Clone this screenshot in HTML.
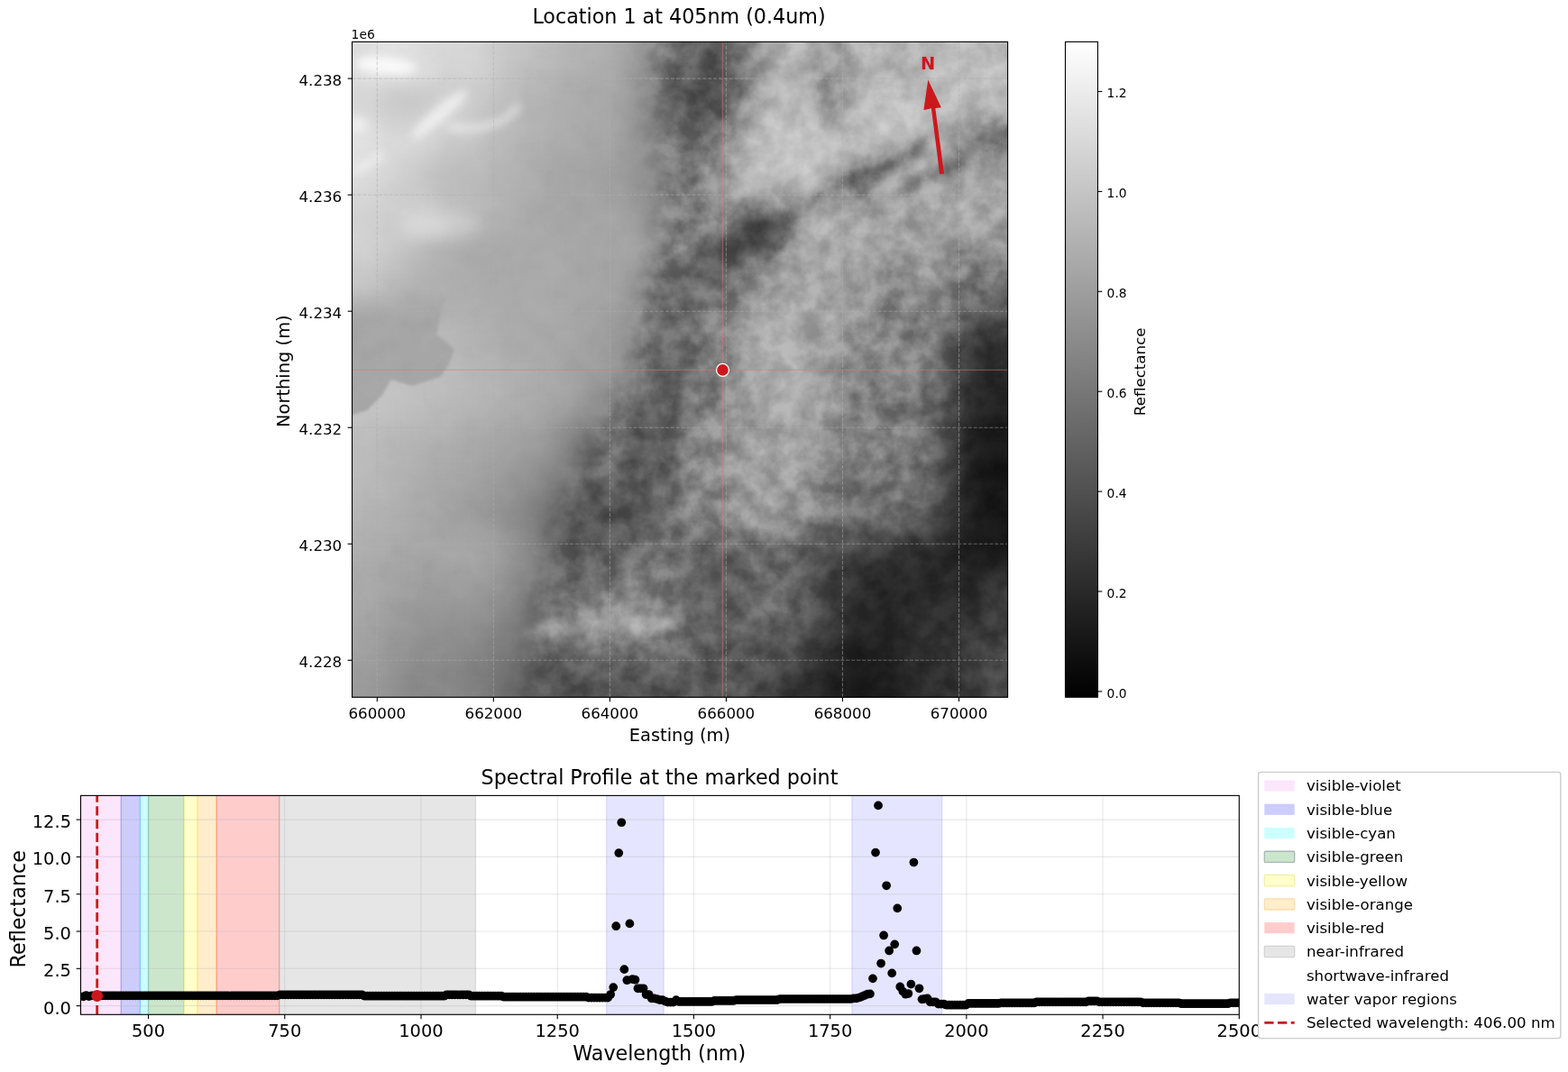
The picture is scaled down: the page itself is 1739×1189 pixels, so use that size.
<!DOCTYPE html>
<html><head><meta charset="utf-8"><title>Location 1 at 405nm</title>
<style>html,body{margin:0;padding:0;background:#fff;}svg{display:block;}svg text{font-family:"DejaVu Sans", "Liberation Sans", sans-serif;}</style></head>
<body><svg width="1739" height="1189" viewBox="0 0 1739 1189">
<rect width="1739" height="1189" fill="#fff"/>
<defs>
<clipPath id="axclip"><rect x="390.5" y="46.4" width="727.10" height="726.90"/></clipPath>
<filter id="tb" x="-5%" y="-5%" width="110%" height="110%" color-interpolation-filters="sRGB"><feGaussianBlur stdDeviation="15.15" edgeMode="duplicate"/></filter>
<linearGradient id="cbg" x1="0" y1="0" x2="0" y2="1"><stop offset="0" stop-color="#fff"/><stop offset="1" stop-color="#000"/></linearGradient>
<clipPath id="ax2clip"><rect x="89.5" y="882.4" width="1284.8" height="242.9"/></clipPath>
</defs>
<g clip-path="url(#axclip)" style="isolation:isolate"><g filter="url(#tb)">
<rect x="360.20" y="16.11" width="30.90" height="30.89" fill="rgb(222,222,222)"/>
<rect x="390.50" y="16.11" width="30.90" height="30.89" fill="rgb(222,222,222)"/>
<rect x="420.80" y="16.11" width="30.90" height="30.89" fill="rgb(228,228,228)"/>
<rect x="451.09" y="16.11" width="30.90" height="30.89" fill="rgb(220,220,220)"/>
<rect x="481.39" y="16.11" width="30.90" height="30.89" fill="rgb(215,215,215)"/>
<rect x="511.68" y="16.11" width="30.90" height="30.89" fill="rgb(215,215,215)"/>
<rect x="541.98" y="16.11" width="30.90" height="30.89" fill="rgb(200,200,200)"/>
<rect x="572.27" y="16.11" width="30.90" height="30.89" fill="rgb(195,195,195)"/>
<rect x="602.57" y="16.11" width="30.90" height="30.89" fill="rgb(185,185,185)"/>
<rect x="632.87" y="16.11" width="30.90" height="30.89" fill="rgb(180,180,180)"/>
<rect x="663.16" y="16.11" width="30.90" height="30.89" fill="rgb(175,175,175)"/>
<rect x="693.46" y="16.11" width="30.90" height="30.89" fill="rgb(155,155,155)"/>
<rect x="723.75" y="16.11" width="30.90" height="30.89" fill="rgb(120,120,120)"/>
<rect x="754.05" y="16.11" width="30.90" height="30.89" fill="rgb(95,95,95)"/>
<rect x="784.35" y="16.11" width="30.90" height="30.89" fill="rgb(85,85,85)"/>
<rect x="814.64" y="16.11" width="30.90" height="30.89" fill="rgb(115,115,115)"/>
<rect x="844.94" y="16.11" width="30.90" height="30.89" fill="rgb(180,180,180)"/>
<rect x="875.23" y="16.11" width="30.90" height="30.89" fill="rgb(180,180,180)"/>
<rect x="905.53" y="16.11" width="30.90" height="30.89" fill="rgb(150,150,150)"/>
<rect x="935.82" y="16.11" width="30.90" height="30.89" fill="rgb(180,180,180)"/>
<rect x="966.12" y="16.11" width="30.90" height="30.89" fill="rgb(175,175,175)"/>
<rect x="996.42" y="16.11" width="30.90" height="30.89" fill="rgb(170,170,170)"/>
<rect x="1026.71" y="16.11" width="30.90" height="30.89" fill="rgb(185,185,185)"/>
<rect x="1057.01" y="16.11" width="30.90" height="30.89" fill="rgb(190,190,190)"/>
<rect x="1087.30" y="16.11" width="30.90" height="30.89" fill="rgb(180,180,180)"/>
<rect x="1117.60" y="16.11" width="30.90" height="30.89" fill="rgb(180,180,180)"/>
<rect x="360.20" y="46.40" width="30.90" height="30.89" fill="rgb(222,222,222)"/>
<rect x="390.50" y="46.40" width="30.90" height="30.89" fill="rgb(222,222,222)"/>
<rect x="420.80" y="46.40" width="30.90" height="30.89" fill="rgb(228,228,228)"/>
<rect x="451.09" y="46.40" width="30.90" height="30.89" fill="rgb(220,220,220)"/>
<rect x="481.39" y="46.40" width="30.90" height="30.89" fill="rgb(215,215,215)"/>
<rect x="511.68" y="46.40" width="30.90" height="30.89" fill="rgb(215,215,215)"/>
<rect x="541.98" y="46.40" width="30.90" height="30.89" fill="rgb(200,200,200)"/>
<rect x="572.27" y="46.40" width="30.90" height="30.89" fill="rgb(195,195,195)"/>
<rect x="602.57" y="46.40" width="30.90" height="30.89" fill="rgb(185,185,185)"/>
<rect x="632.87" y="46.40" width="30.90" height="30.89" fill="rgb(180,180,180)"/>
<rect x="663.16" y="46.40" width="30.90" height="30.89" fill="rgb(175,175,175)"/>
<rect x="693.46" y="46.40" width="30.90" height="30.89" fill="rgb(155,155,155)"/>
<rect x="723.75" y="46.40" width="30.90" height="30.89" fill="rgb(120,120,120)"/>
<rect x="754.05" y="46.40" width="30.90" height="30.89" fill="rgb(95,95,95)"/>
<rect x="784.35" y="46.40" width="30.90" height="30.89" fill="rgb(85,85,85)"/>
<rect x="814.64" y="46.40" width="30.90" height="30.89" fill="rgb(115,115,115)"/>
<rect x="844.94" y="46.40" width="30.90" height="30.89" fill="rgb(180,180,180)"/>
<rect x="875.23" y="46.40" width="30.90" height="30.89" fill="rgb(180,180,180)"/>
<rect x="905.53" y="46.40" width="30.90" height="30.89" fill="rgb(150,150,150)"/>
<rect x="935.82" y="46.40" width="30.90" height="30.89" fill="rgb(180,180,180)"/>
<rect x="966.12" y="46.40" width="30.90" height="30.89" fill="rgb(175,175,175)"/>
<rect x="996.42" y="46.40" width="30.90" height="30.89" fill="rgb(170,170,170)"/>
<rect x="1026.71" y="46.40" width="30.90" height="30.89" fill="rgb(185,185,185)"/>
<rect x="1057.01" y="46.40" width="30.90" height="30.89" fill="rgb(190,190,190)"/>
<rect x="1087.30" y="46.40" width="30.90" height="30.89" fill="rgb(180,180,180)"/>
<rect x="1117.60" y="46.40" width="30.90" height="30.89" fill="rgb(180,180,180)"/>
<rect x="360.20" y="76.69" width="30.90" height="30.89" fill="rgb(215,215,215)"/>
<rect x="390.50" y="76.69" width="30.90" height="30.89" fill="rgb(215,215,215)"/>
<rect x="420.80" y="76.69" width="30.90" height="30.89" fill="rgb(205,205,205)"/>
<rect x="451.09" y="76.69" width="30.90" height="30.89" fill="rgb(200,200,200)"/>
<rect x="481.39" y="76.69" width="30.90" height="30.89" fill="rgb(205,205,205)"/>
<rect x="511.68" y="76.69" width="30.90" height="30.89" fill="rgb(210,210,210)"/>
<rect x="541.98" y="76.69" width="30.90" height="30.89" fill="rgb(195,195,195)"/>
<rect x="572.27" y="76.69" width="30.90" height="30.89" fill="rgb(185,185,185)"/>
<rect x="602.57" y="76.69" width="30.90" height="30.89" fill="rgb(175,175,175)"/>
<rect x="632.87" y="76.69" width="30.90" height="30.89" fill="rgb(170,170,170)"/>
<rect x="663.16" y="76.69" width="30.90" height="30.89" fill="rgb(170,170,170)"/>
<rect x="693.46" y="76.69" width="30.90" height="30.89" fill="rgb(150,150,150)"/>
<rect x="723.75" y="76.69" width="30.90" height="30.89" fill="rgb(105,105,105)"/>
<rect x="754.05" y="76.69" width="30.90" height="30.89" fill="rgb(80,80,80)"/>
<rect x="784.35" y="76.69" width="30.90" height="30.89" fill="rgb(70,70,70)"/>
<rect x="814.64" y="76.69" width="30.90" height="30.89" fill="rgb(131,131,131)"/>
<rect x="844.94" y="76.69" width="30.90" height="30.89" fill="rgb(191,191,191)"/>
<rect x="875.23" y="76.69" width="30.90" height="30.89" fill="rgb(181,181,181)"/>
<rect x="905.53" y="76.69" width="30.90" height="30.89" fill="rgb(120,120,120)"/>
<rect x="935.82" y="76.69" width="30.90" height="30.89" fill="rgb(185,185,185)"/>
<rect x="966.12" y="76.69" width="30.90" height="30.89" fill="rgb(190,190,190)"/>
<rect x="996.42" y="76.69" width="30.90" height="30.89" fill="rgb(180,180,180)"/>
<rect x="1026.71" y="76.69" width="30.90" height="30.89" fill="rgb(190,190,190)"/>
<rect x="1057.01" y="76.69" width="30.90" height="30.89" fill="rgb(190,190,190)"/>
<rect x="1087.30" y="76.69" width="30.90" height="30.89" fill="rgb(195,195,195)"/>
<rect x="1117.60" y="76.69" width="30.90" height="30.89" fill="rgb(195,195,195)"/>
<rect x="360.20" y="106.97" width="30.90" height="30.89" fill="rgb(215,215,215)"/>
<rect x="390.50" y="106.97" width="30.90" height="30.89" fill="rgb(215,215,215)"/>
<rect x="420.80" y="106.97" width="30.90" height="30.89" fill="rgb(200,200,200)"/>
<rect x="451.09" y="106.97" width="30.90" height="30.89" fill="rgb(200,200,200)"/>
<rect x="481.39" y="106.97" width="30.90" height="30.89" fill="rgb(220,220,220)"/>
<rect x="511.68" y="106.97" width="30.90" height="30.89" fill="rgb(200,200,200)"/>
<rect x="541.98" y="106.97" width="30.90" height="30.89" fill="rgb(190,190,190)"/>
<rect x="572.27" y="106.97" width="30.90" height="30.89" fill="rgb(180,180,180)"/>
<rect x="602.57" y="106.97" width="30.90" height="30.89" fill="rgb(175,175,175)"/>
<rect x="632.87" y="106.97" width="30.90" height="30.89" fill="rgb(170,170,170)"/>
<rect x="663.16" y="106.97" width="30.90" height="30.89" fill="rgb(170,170,170)"/>
<rect x="693.46" y="106.97" width="30.90" height="30.89" fill="rgb(150,150,150)"/>
<rect x="723.75" y="106.97" width="30.90" height="30.89" fill="rgb(95,95,95)"/>
<rect x="754.05" y="106.97" width="30.90" height="30.89" fill="rgb(80,80,80)"/>
<rect x="784.35" y="106.97" width="30.90" height="30.89" fill="rgb(65,65,65)"/>
<rect x="814.64" y="106.97" width="30.90" height="30.89" fill="rgb(166,166,166)"/>
<rect x="844.94" y="106.97" width="30.90" height="30.89" fill="rgb(191,191,191)"/>
<rect x="875.23" y="106.97" width="30.90" height="30.89" fill="rgb(186,186,186)"/>
<rect x="905.53" y="106.97" width="30.90" height="30.89" fill="rgb(130,130,130)"/>
<rect x="935.82" y="106.97" width="30.90" height="30.89" fill="rgb(185,185,185)"/>
<rect x="966.12" y="106.97" width="30.90" height="30.89" fill="rgb(195,195,195)"/>
<rect x="996.42" y="106.97" width="30.90" height="30.89" fill="rgb(195,195,195)"/>
<rect x="1026.71" y="106.97" width="30.90" height="30.89" fill="rgb(185,185,185)"/>
<rect x="1057.01" y="106.97" width="30.90" height="30.89" fill="rgb(185,185,185)"/>
<rect x="1087.30" y="106.97" width="30.90" height="30.89" fill="rgb(175,175,175)"/>
<rect x="1117.60" y="106.97" width="30.90" height="30.89" fill="rgb(175,175,175)"/>
<rect x="360.20" y="137.26" width="30.90" height="30.89" fill="rgb(228,228,228)"/>
<rect x="390.50" y="137.26" width="30.90" height="30.89" fill="rgb(228,228,228)"/>
<rect x="420.80" y="137.26" width="30.90" height="30.89" fill="rgb(218,218,218)"/>
<rect x="451.09" y="137.26" width="30.90" height="30.89" fill="rgb(223,223,223)"/>
<rect x="481.39" y="137.26" width="30.90" height="30.89" fill="rgb(205,205,205)"/>
<rect x="511.68" y="137.26" width="30.90" height="30.89" fill="rgb(200,200,200)"/>
<rect x="541.98" y="137.26" width="30.90" height="30.89" fill="rgb(185,185,185)"/>
<rect x="572.27" y="137.26" width="30.90" height="30.89" fill="rgb(180,180,180)"/>
<rect x="602.57" y="137.26" width="30.90" height="30.89" fill="rgb(175,175,175)"/>
<rect x="632.87" y="137.26" width="30.90" height="30.89" fill="rgb(170,170,170)"/>
<rect x="663.16" y="137.26" width="30.90" height="30.89" fill="rgb(165,165,165)"/>
<rect x="693.46" y="137.26" width="30.90" height="30.89" fill="rgb(150,150,150)"/>
<rect x="723.75" y="137.26" width="30.90" height="30.89" fill="rgb(120,120,120)"/>
<rect x="754.05" y="137.26" width="30.90" height="30.89" fill="rgb(115,115,115)"/>
<rect x="784.35" y="137.26" width="30.90" height="30.89" fill="rgb(115,115,115)"/>
<rect x="814.64" y="137.26" width="30.90" height="30.89" fill="rgb(186,186,186)"/>
<rect x="844.94" y="137.26" width="30.90" height="30.89" fill="rgb(191,191,191)"/>
<rect x="875.23" y="137.26" width="30.90" height="30.89" fill="rgb(201,201,201)"/>
<rect x="905.53" y="137.26" width="30.90" height="30.89" fill="rgb(200,200,200)"/>
<rect x="935.82" y="137.26" width="30.90" height="30.89" fill="rgb(200,200,200)"/>
<rect x="966.12" y="137.26" width="30.90" height="30.89" fill="rgb(200,200,200)"/>
<rect x="996.42" y="137.26" width="30.90" height="30.89" fill="rgb(185,185,185)"/>
<rect x="1026.71" y="137.26" width="30.90" height="30.89" fill="rgb(180,180,180)"/>
<rect x="1057.01" y="137.26" width="30.90" height="30.89" fill="rgb(140,140,140)"/>
<rect x="1087.30" y="137.26" width="30.90" height="30.89" fill="rgb(120,120,120)"/>
<rect x="1117.60" y="137.26" width="30.90" height="30.89" fill="rgb(120,120,120)"/>
<rect x="360.20" y="167.55" width="30.90" height="30.89" fill="rgb(223,223,223)"/>
<rect x="390.50" y="167.55" width="30.90" height="30.89" fill="rgb(223,223,223)"/>
<rect x="420.80" y="167.55" width="30.90" height="30.89" fill="rgb(213,213,213)"/>
<rect x="451.09" y="167.55" width="30.90" height="30.89" fill="rgb(203,203,203)"/>
<rect x="481.39" y="167.55" width="30.90" height="30.89" fill="rgb(190,190,190)"/>
<rect x="511.68" y="167.55" width="30.90" height="30.89" fill="rgb(190,190,190)"/>
<rect x="541.98" y="167.55" width="30.90" height="30.89" fill="rgb(180,180,180)"/>
<rect x="572.27" y="167.55" width="30.90" height="30.89" fill="rgb(175,175,175)"/>
<rect x="602.57" y="167.55" width="30.90" height="30.89" fill="rgb(165,165,165)"/>
<rect x="632.87" y="167.55" width="30.90" height="30.89" fill="rgb(165,165,165)"/>
<rect x="663.16" y="167.55" width="30.90" height="30.89" fill="rgb(160,160,160)"/>
<rect x="693.46" y="167.55" width="30.90" height="30.89" fill="rgb(150,150,150)"/>
<rect x="723.75" y="167.55" width="30.90" height="30.89" fill="rgb(125,125,125)"/>
<rect x="754.05" y="167.55" width="30.90" height="30.89" fill="rgb(115,115,115)"/>
<rect x="784.35" y="167.55" width="30.90" height="30.89" fill="rgb(145,145,145)"/>
<rect x="814.64" y="167.55" width="30.90" height="30.89" fill="rgb(191,191,191)"/>
<rect x="844.94" y="167.55" width="30.90" height="30.89" fill="rgb(191,191,191)"/>
<rect x="875.23" y="167.55" width="30.90" height="30.89" fill="rgb(201,201,201)"/>
<rect x="905.53" y="167.55" width="30.90" height="30.89" fill="rgb(195,195,195)"/>
<rect x="935.82" y="167.55" width="30.90" height="30.89" fill="rgb(140,140,140)"/>
<rect x="966.12" y="167.55" width="30.90" height="30.89" fill="rgb(130,130,130)"/>
<rect x="996.42" y="167.55" width="30.90" height="30.89" fill="rgb(170,170,170)"/>
<rect x="1026.71" y="167.55" width="30.90" height="30.89" fill="rgb(170,170,170)"/>
<rect x="1057.01" y="167.55" width="30.90" height="30.89" fill="rgb(130,130,130)"/>
<rect x="1087.30" y="167.55" width="30.90" height="30.89" fill="rgb(160,160,160)"/>
<rect x="1117.60" y="167.55" width="30.90" height="30.89" fill="rgb(160,160,160)"/>
<rect x="360.20" y="197.84" width="30.90" height="30.89" fill="rgb(218,218,218)"/>
<rect x="390.50" y="197.84" width="30.90" height="30.89" fill="rgb(218,218,218)"/>
<rect x="420.80" y="197.84" width="30.90" height="30.89" fill="rgb(208,208,208)"/>
<rect x="451.09" y="197.84" width="30.90" height="30.89" fill="rgb(198,198,198)"/>
<rect x="481.39" y="197.84" width="30.90" height="30.89" fill="rgb(185,185,185)"/>
<rect x="511.68" y="197.84" width="30.90" height="30.89" fill="rgb(185,185,185)"/>
<rect x="541.98" y="197.84" width="30.90" height="30.89" fill="rgb(180,180,180)"/>
<rect x="572.27" y="197.84" width="30.90" height="30.89" fill="rgb(175,175,175)"/>
<rect x="602.57" y="197.84" width="30.90" height="30.89" fill="rgb(165,165,165)"/>
<rect x="632.87" y="197.84" width="30.90" height="30.89" fill="rgb(165,165,165)"/>
<rect x="663.16" y="197.84" width="30.90" height="30.89" fill="rgb(160,160,160)"/>
<rect x="693.46" y="197.84" width="30.90" height="30.89" fill="rgb(150,150,150)"/>
<rect x="723.75" y="197.84" width="30.90" height="30.89" fill="rgb(125,125,125)"/>
<rect x="754.05" y="197.84" width="30.90" height="30.89" fill="rgb(115,115,115)"/>
<rect x="784.35" y="197.84" width="30.90" height="30.89" fill="rgb(155,155,155)"/>
<rect x="814.64" y="197.84" width="30.90" height="30.89" fill="rgb(186,186,186)"/>
<rect x="844.94" y="197.84" width="30.90" height="30.89" fill="rgb(176,176,176)"/>
<rect x="875.23" y="197.84" width="30.90" height="30.89" fill="rgb(181,181,181)"/>
<rect x="905.53" y="197.84" width="30.90" height="30.89" fill="rgb(150,150,150)"/>
<rect x="935.82" y="197.84" width="30.90" height="30.89" fill="rgb(110,110,110)"/>
<rect x="966.12" y="197.84" width="30.90" height="30.89" fill="rgb(175,175,175)"/>
<rect x="996.42" y="197.84" width="30.90" height="30.89" fill="rgb(185,185,185)"/>
<rect x="1026.71" y="197.84" width="30.90" height="30.89" fill="rgb(150,150,150)"/>
<rect x="1057.01" y="197.84" width="30.90" height="30.89" fill="rgb(175,175,175)"/>
<rect x="1087.30" y="197.84" width="30.90" height="30.89" fill="rgb(170,170,170)"/>
<rect x="1117.60" y="197.84" width="30.90" height="30.89" fill="rgb(170,170,170)"/>
<rect x="360.20" y="228.12" width="30.90" height="30.89" fill="rgb(208,208,208)"/>
<rect x="390.50" y="228.12" width="30.90" height="30.89" fill="rgb(208,208,208)"/>
<rect x="420.80" y="228.12" width="30.90" height="30.89" fill="rgb(203,203,203)"/>
<rect x="451.09" y="228.12" width="30.90" height="30.89" fill="rgb(218,218,218)"/>
<rect x="481.39" y="228.12" width="30.90" height="30.89" fill="rgb(205,205,205)"/>
<rect x="511.68" y="228.12" width="30.90" height="30.89" fill="rgb(190,190,190)"/>
<rect x="541.98" y="228.12" width="30.90" height="30.89" fill="rgb(175,175,175)"/>
<rect x="572.27" y="228.12" width="30.90" height="30.89" fill="rgb(170,170,170)"/>
<rect x="602.57" y="228.12" width="30.90" height="30.89" fill="rgb(165,165,165)"/>
<rect x="632.87" y="228.12" width="30.90" height="30.89" fill="rgb(165,165,165)"/>
<rect x="663.16" y="228.12" width="30.90" height="30.89" fill="rgb(170,170,170)"/>
<rect x="693.46" y="228.12" width="30.90" height="30.89" fill="rgb(155,155,155)"/>
<rect x="723.75" y="228.12" width="30.90" height="30.89" fill="rgb(130,130,130)"/>
<rect x="754.05" y="228.12" width="30.90" height="30.89" fill="rgb(120,120,120)"/>
<rect x="784.35" y="228.12" width="30.90" height="30.89" fill="rgb(150,150,150)"/>
<rect x="814.64" y="228.12" width="30.90" height="30.89" fill="rgb(70,70,70)"/>
<rect x="844.94" y="228.12" width="30.90" height="30.89" fill="rgb(90,90,90)"/>
<rect x="875.23" y="228.12" width="30.90" height="30.89" fill="rgb(180,180,180)"/>
<rect x="905.53" y="228.12" width="30.90" height="30.89" fill="rgb(175,175,175)"/>
<rect x="935.82" y="228.12" width="30.90" height="30.89" fill="rgb(175,175,175)"/>
<rect x="966.12" y="228.12" width="30.90" height="30.89" fill="rgb(160,160,160)"/>
<rect x="996.42" y="228.12" width="30.90" height="30.89" fill="rgb(150,150,150)"/>
<rect x="1026.71" y="228.12" width="30.90" height="30.89" fill="rgb(170,170,170)"/>
<rect x="1057.01" y="228.12" width="30.90" height="30.89" fill="rgb(175,175,175)"/>
<rect x="1087.30" y="228.12" width="30.90" height="30.89" fill="rgb(155,155,155)"/>
<rect x="1117.60" y="228.12" width="30.90" height="30.89" fill="rgb(155,155,155)"/>
<rect x="360.20" y="258.41" width="30.90" height="30.89" fill="rgb(213,213,213)"/>
<rect x="390.50" y="258.41" width="30.90" height="30.89" fill="rgb(213,213,213)"/>
<rect x="420.80" y="258.41" width="30.90" height="30.89" fill="rgb(203,203,203)"/>
<rect x="451.09" y="258.41" width="30.90" height="30.89" fill="rgb(188,188,188)"/>
<rect x="481.39" y="258.41" width="30.90" height="30.89" fill="rgb(175,175,175)"/>
<rect x="511.68" y="258.41" width="30.90" height="30.89" fill="rgb(165,165,165)"/>
<rect x="541.98" y="258.41" width="30.90" height="30.89" fill="rgb(170,170,170)"/>
<rect x="572.27" y="258.41" width="30.90" height="30.89" fill="rgb(170,170,170)"/>
<rect x="602.57" y="258.41" width="30.90" height="30.89" fill="rgb(170,170,170)"/>
<rect x="632.87" y="258.41" width="30.90" height="30.89" fill="rgb(165,165,165)"/>
<rect x="663.16" y="258.41" width="30.90" height="30.89" fill="rgb(165,165,165)"/>
<rect x="693.46" y="258.41" width="30.90" height="30.89" fill="rgb(165,165,165)"/>
<rect x="723.75" y="258.41" width="30.90" height="30.89" fill="rgb(140,140,140)"/>
<rect x="754.05" y="258.41" width="30.90" height="30.89" fill="rgb(120,120,120)"/>
<rect x="784.35" y="258.41" width="30.90" height="30.89" fill="rgb(70,70,70)"/>
<rect x="814.64" y="258.41" width="30.90" height="30.89" fill="rgb(60,60,60)"/>
<rect x="844.94" y="258.41" width="30.90" height="30.89" fill="rgb(140,140,140)"/>
<rect x="875.23" y="258.41" width="30.90" height="30.89" fill="rgb(170,170,170)"/>
<rect x="905.53" y="258.41" width="30.90" height="30.89" fill="rgb(165,165,165)"/>
<rect x="935.82" y="258.41" width="30.90" height="30.89" fill="rgb(175,175,175)"/>
<rect x="966.12" y="258.41" width="30.90" height="30.89" fill="rgb(165,165,165)"/>
<rect x="996.42" y="258.41" width="30.90" height="30.89" fill="rgb(165,165,165)"/>
<rect x="1026.71" y="258.41" width="30.90" height="30.89" fill="rgb(150,150,150)"/>
<rect x="1057.01" y="258.41" width="30.90" height="30.89" fill="rgb(140,140,140)"/>
<rect x="1087.30" y="258.41" width="30.90" height="30.89" fill="rgb(150,150,150)"/>
<rect x="1117.60" y="258.41" width="30.90" height="30.89" fill="rgb(150,150,150)"/>
<rect x="360.20" y="288.70" width="30.90" height="30.89" fill="rgb(200,200,200)"/>
<rect x="390.50" y="288.70" width="30.90" height="30.89" fill="rgb(200,200,200)"/>
<rect x="420.80" y="288.70" width="30.90" height="30.89" fill="rgb(190,190,190)"/>
<rect x="451.09" y="288.70" width="30.90" height="30.89" fill="rgb(180,180,180)"/>
<rect x="481.39" y="288.70" width="30.90" height="30.89" fill="rgb(175,175,175)"/>
<rect x="511.68" y="288.70" width="30.90" height="30.89" fill="rgb(170,170,170)"/>
<rect x="541.98" y="288.70" width="30.90" height="30.89" fill="rgb(170,170,170)"/>
<rect x="572.27" y="288.70" width="30.90" height="30.89" fill="rgb(170,170,170)"/>
<rect x="602.57" y="288.70" width="30.90" height="30.89" fill="rgb(170,170,170)"/>
<rect x="632.87" y="288.70" width="30.90" height="30.89" fill="rgb(165,165,165)"/>
<rect x="663.16" y="288.70" width="30.90" height="30.89" fill="rgb(165,165,165)"/>
<rect x="693.46" y="288.70" width="30.90" height="30.89" fill="rgb(155,155,155)"/>
<rect x="723.75" y="288.70" width="30.90" height="30.89" fill="rgb(100,100,100)"/>
<rect x="754.05" y="288.70" width="30.90" height="30.89" fill="rgb(110,110,110)"/>
<rect x="784.35" y="288.70" width="30.90" height="30.89" fill="rgb(80,80,80)"/>
<rect x="814.64" y="288.70" width="30.90" height="30.89" fill="rgb(135,135,135)"/>
<rect x="844.94" y="288.70" width="30.90" height="30.89" fill="rgb(170,170,170)"/>
<rect x="875.23" y="288.70" width="30.90" height="30.89" fill="rgb(160,160,160)"/>
<rect x="905.53" y="288.70" width="30.90" height="30.89" fill="rgb(160,160,160)"/>
<rect x="935.82" y="288.70" width="30.90" height="30.89" fill="rgb(170,170,170)"/>
<rect x="966.12" y="288.70" width="30.90" height="30.89" fill="rgb(130,130,130)"/>
<rect x="996.42" y="288.70" width="30.90" height="30.89" fill="rgb(150,150,150)"/>
<rect x="1026.71" y="288.70" width="30.90" height="30.89" fill="rgb(150,150,150)"/>
<rect x="1057.01" y="288.70" width="30.90" height="30.89" fill="rgb(120,120,120)"/>
<rect x="1087.30" y="288.70" width="30.90" height="30.89" fill="rgb(120,120,120)"/>
<rect x="1117.60" y="288.70" width="30.90" height="30.89" fill="rgb(120,120,120)"/>
<rect x="360.20" y="318.99" width="30.90" height="30.89" fill="rgb(195,195,195)"/>
<rect x="390.50" y="318.99" width="30.90" height="30.89" fill="rgb(195,195,195)"/>
<rect x="420.80" y="318.99" width="30.90" height="30.89" fill="rgb(180,180,180)"/>
<rect x="451.09" y="318.99" width="30.90" height="30.89" fill="rgb(170,170,170)"/>
<rect x="481.39" y="318.99" width="30.90" height="30.89" fill="rgb(175,175,175)"/>
<rect x="511.68" y="318.99" width="30.90" height="30.89" fill="rgb(175,175,175)"/>
<rect x="541.98" y="318.99" width="30.90" height="30.89" fill="rgb(170,170,170)"/>
<rect x="572.27" y="318.99" width="30.90" height="30.89" fill="rgb(170,170,170)"/>
<rect x="602.57" y="318.99" width="30.90" height="30.89" fill="rgb(170,170,170)"/>
<rect x="632.87" y="318.99" width="30.90" height="30.89" fill="rgb(165,165,165)"/>
<rect x="663.16" y="318.99" width="30.90" height="30.89" fill="rgb(165,165,165)"/>
<rect x="693.46" y="318.99" width="30.90" height="30.89" fill="rgb(150,150,150)"/>
<rect x="723.75" y="318.99" width="30.90" height="30.89" fill="rgb(85,85,85)"/>
<rect x="754.05" y="318.99" width="30.90" height="30.89" fill="rgb(120,120,120)"/>
<rect x="784.35" y="318.99" width="30.90" height="30.89" fill="rgb(110,110,110)"/>
<rect x="814.64" y="318.99" width="30.90" height="30.89" fill="rgb(150,150,150)"/>
<rect x="844.94" y="318.99" width="30.90" height="30.89" fill="rgb(165,165,165)"/>
<rect x="875.23" y="318.99" width="30.90" height="30.89" fill="rgb(160,160,160)"/>
<rect x="905.53" y="318.99" width="30.90" height="30.89" fill="rgb(165,165,165)"/>
<rect x="935.82" y="318.99" width="30.90" height="30.89" fill="rgb(160,160,160)"/>
<rect x="966.12" y="318.99" width="30.90" height="30.89" fill="rgb(125,125,125)"/>
<rect x="996.42" y="318.99" width="30.90" height="30.89" fill="rgb(145,145,145)"/>
<rect x="1026.71" y="318.99" width="30.90" height="30.89" fill="rgb(140,140,140)"/>
<rect x="1057.01" y="318.99" width="30.90" height="30.89" fill="rgb(110,110,110)"/>
<rect x="1087.30" y="318.99" width="30.90" height="30.89" fill="rgb(100,100,100)"/>
<rect x="1117.60" y="318.99" width="30.90" height="30.89" fill="rgb(100,100,100)"/>
<rect x="360.20" y="349.27" width="30.90" height="30.89" fill="rgb(190,190,190)"/>
<rect x="390.50" y="349.27" width="30.90" height="30.89" fill="rgb(190,190,190)"/>
<rect x="420.80" y="349.27" width="30.90" height="30.89" fill="rgb(188,188,188)"/>
<rect x="451.09" y="349.27" width="30.90" height="30.89" fill="rgb(185,185,185)"/>
<rect x="481.39" y="349.27" width="30.90" height="30.89" fill="rgb(182,182,182)"/>
<rect x="511.68" y="349.27" width="30.90" height="30.89" fill="rgb(178,178,178)"/>
<rect x="541.98" y="349.27" width="30.90" height="30.89" fill="rgb(170,170,170)"/>
<rect x="572.27" y="349.27" width="30.90" height="30.89" fill="rgb(170,170,170)"/>
<rect x="602.57" y="349.27" width="30.90" height="30.89" fill="rgb(170,170,170)"/>
<rect x="632.87" y="349.27" width="30.90" height="30.89" fill="rgb(165,165,165)"/>
<rect x="663.16" y="349.27" width="30.90" height="30.89" fill="rgb(155,155,155)"/>
<rect x="693.46" y="349.27" width="30.90" height="30.89" fill="rgb(140,140,140)"/>
<rect x="723.75" y="349.27" width="30.90" height="30.89" fill="rgb(100,100,100)"/>
<rect x="754.05" y="349.27" width="30.90" height="30.89" fill="rgb(115,115,115)"/>
<rect x="784.35" y="349.27" width="30.90" height="30.89" fill="rgb(135,135,135)"/>
<rect x="814.64" y="349.27" width="30.90" height="30.89" fill="rgb(170,170,170)"/>
<rect x="844.94" y="349.27" width="30.90" height="30.89" fill="rgb(180,180,180)"/>
<rect x="875.23" y="349.27" width="30.90" height="30.89" fill="rgb(165,165,165)"/>
<rect x="905.53" y="349.27" width="30.90" height="30.89" fill="rgb(160,160,160)"/>
<rect x="935.82" y="349.27" width="30.90" height="30.89" fill="rgb(155,155,155)"/>
<rect x="966.12" y="349.27" width="30.90" height="30.89" fill="rgb(130,130,130)"/>
<rect x="996.42" y="349.27" width="30.90" height="30.89" fill="rgb(125,125,125)"/>
<rect x="1026.71" y="349.27" width="30.90" height="30.89" fill="rgb(120,120,120)"/>
<rect x="1057.01" y="349.27" width="30.90" height="30.89" fill="rgb(70,70,70)"/>
<rect x="1087.30" y="349.27" width="30.90" height="30.89" fill="rgb(60,60,60)"/>
<rect x="1117.60" y="349.27" width="30.90" height="30.89" fill="rgb(60,60,60)"/>
<rect x="360.20" y="379.56" width="30.90" height="30.89" fill="rgb(192,192,192)"/>
<rect x="390.50" y="379.56" width="30.90" height="30.89" fill="rgb(192,192,192)"/>
<rect x="420.80" y="379.56" width="30.90" height="30.89" fill="rgb(190,190,190)"/>
<rect x="451.09" y="379.56" width="30.90" height="30.89" fill="rgb(188,188,188)"/>
<rect x="481.39" y="379.56" width="30.90" height="30.89" fill="rgb(185,185,185)"/>
<rect x="511.68" y="379.56" width="30.90" height="30.89" fill="rgb(180,180,180)"/>
<rect x="541.98" y="379.56" width="30.90" height="30.89" fill="rgb(175,175,175)"/>
<rect x="572.27" y="379.56" width="30.90" height="30.89" fill="rgb(170,170,170)"/>
<rect x="602.57" y="379.56" width="30.90" height="30.89" fill="rgb(165,165,165)"/>
<rect x="632.87" y="379.56" width="30.90" height="30.89" fill="rgb(160,160,160)"/>
<rect x="663.16" y="379.56" width="30.90" height="30.89" fill="rgb(160,160,160)"/>
<rect x="693.46" y="379.56" width="30.90" height="30.89" fill="rgb(130,130,130)"/>
<rect x="723.75" y="379.56" width="30.90" height="30.89" fill="rgb(90,90,90)"/>
<rect x="754.05" y="379.56" width="30.90" height="30.89" fill="rgb(110,110,110)"/>
<rect x="784.35" y="379.56" width="30.90" height="30.89" fill="rgb(125,125,125)"/>
<rect x="814.64" y="379.56" width="30.90" height="30.89" fill="rgb(165,165,165)"/>
<rect x="844.94" y="379.56" width="30.90" height="30.89" fill="rgb(170,170,170)"/>
<rect x="875.23" y="379.56" width="30.90" height="30.89" fill="rgb(160,160,160)"/>
<rect x="905.53" y="379.56" width="30.90" height="30.89" fill="rgb(140,140,140)"/>
<rect x="935.82" y="379.56" width="30.90" height="30.89" fill="rgb(145,145,145)"/>
<rect x="966.12" y="379.56" width="30.90" height="30.89" fill="rgb(130,130,130)"/>
<rect x="996.42" y="379.56" width="30.90" height="30.89" fill="rgb(130,130,130)"/>
<rect x="1026.71" y="379.56" width="30.90" height="30.89" fill="rgb(110,110,110)"/>
<rect x="1057.01" y="379.56" width="30.90" height="30.89" fill="rgb(50,50,50)"/>
<rect x="1087.30" y="379.56" width="30.90" height="30.89" fill="rgb(45,45,45)"/>
<rect x="1117.60" y="379.56" width="30.90" height="30.89" fill="rgb(45,45,45)"/>
<rect x="360.20" y="409.85" width="30.90" height="30.89" fill="rgb(195,195,195)"/>
<rect x="390.50" y="409.85" width="30.90" height="30.89" fill="rgb(195,195,195)"/>
<rect x="420.80" y="409.85" width="30.90" height="30.89" fill="rgb(195,195,195)"/>
<rect x="451.09" y="409.85" width="30.90" height="30.89" fill="rgb(192,192,192)"/>
<rect x="481.39" y="409.85" width="30.90" height="30.89" fill="rgb(188,188,188)"/>
<rect x="511.68" y="409.85" width="30.90" height="30.89" fill="rgb(185,185,185)"/>
<rect x="541.98" y="409.85" width="30.90" height="30.89" fill="rgb(180,180,180)"/>
<rect x="572.27" y="409.85" width="30.90" height="30.89" fill="rgb(175,175,175)"/>
<rect x="602.57" y="409.85" width="30.90" height="30.89" fill="rgb(170,170,170)"/>
<rect x="632.87" y="409.85" width="30.90" height="30.89" fill="rgb(160,160,160)"/>
<rect x="663.16" y="409.85" width="30.90" height="30.89" fill="rgb(150,150,150)"/>
<rect x="693.46" y="409.85" width="30.90" height="30.89" fill="rgb(120,120,120)"/>
<rect x="723.75" y="409.85" width="30.90" height="30.89" fill="rgb(80,80,80)"/>
<rect x="754.05" y="409.85" width="30.90" height="30.89" fill="rgb(110,110,110)"/>
<rect x="784.35" y="409.85" width="30.90" height="30.89" fill="rgb(130,130,130)"/>
<rect x="814.64" y="409.85" width="30.90" height="30.89" fill="rgb(150,150,150)"/>
<rect x="844.94" y="409.85" width="30.90" height="30.89" fill="rgb(180,180,180)"/>
<rect x="875.23" y="409.85" width="30.90" height="30.89" fill="rgb(190,190,190)"/>
<rect x="905.53" y="409.85" width="30.90" height="30.89" fill="rgb(165,165,165)"/>
<rect x="935.82" y="409.85" width="30.90" height="30.89" fill="rgb(125,125,125)"/>
<rect x="966.12" y="409.85" width="30.90" height="30.89" fill="rgb(130,130,130)"/>
<rect x="996.42" y="409.85" width="30.90" height="30.89" fill="rgb(125,125,125)"/>
<rect x="1026.71" y="409.85" width="30.90" height="30.89" fill="rgb(120,120,120)"/>
<rect x="1057.01" y="409.85" width="30.90" height="30.89" fill="rgb(50,50,50)"/>
<rect x="1087.30" y="409.85" width="30.90" height="30.89" fill="rgb(35,35,35)"/>
<rect x="1117.60" y="409.85" width="30.90" height="30.89" fill="rgb(35,35,35)"/>
<rect x="360.20" y="440.14" width="30.90" height="30.89" fill="rgb(198,198,198)"/>
<rect x="390.50" y="440.14" width="30.90" height="30.89" fill="rgb(198,198,198)"/>
<rect x="420.80" y="440.14" width="30.90" height="30.89" fill="rgb(195,195,195)"/>
<rect x="451.09" y="440.14" width="30.90" height="30.89" fill="rgb(190,190,190)"/>
<rect x="481.39" y="440.14" width="30.90" height="30.89" fill="rgb(185,185,185)"/>
<rect x="511.68" y="440.14" width="30.90" height="30.89" fill="rgb(180,180,180)"/>
<rect x="541.98" y="440.14" width="30.90" height="30.89" fill="rgb(175,175,175)"/>
<rect x="572.27" y="440.14" width="30.90" height="30.89" fill="rgb(170,170,170)"/>
<rect x="602.57" y="440.14" width="30.90" height="30.89" fill="rgb(165,165,165)"/>
<rect x="632.87" y="440.14" width="30.90" height="30.89" fill="rgb(150,150,150)"/>
<rect x="663.16" y="440.14" width="30.90" height="30.89" fill="rgb(130,130,130)"/>
<rect x="693.46" y="440.14" width="30.90" height="30.89" fill="rgb(95,95,95)"/>
<rect x="723.75" y="440.14" width="30.90" height="30.89" fill="rgb(85,85,85)"/>
<rect x="754.05" y="440.14" width="30.90" height="30.89" fill="rgb(130,130,130)"/>
<rect x="784.35" y="440.14" width="30.90" height="30.89" fill="rgb(135,135,135)"/>
<rect x="814.64" y="440.14" width="30.90" height="30.89" fill="rgb(160,160,160)"/>
<rect x="844.94" y="440.14" width="30.90" height="30.89" fill="rgb(165,165,165)"/>
<rect x="875.23" y="440.14" width="30.90" height="30.89" fill="rgb(160,160,160)"/>
<rect x="905.53" y="440.14" width="30.90" height="30.89" fill="rgb(150,150,150)"/>
<rect x="935.82" y="440.14" width="30.90" height="30.89" fill="rgb(125,125,125)"/>
<rect x="966.12" y="440.14" width="30.90" height="30.89" fill="rgb(120,120,120)"/>
<rect x="996.42" y="440.14" width="30.90" height="30.89" fill="rgb(110,110,110)"/>
<rect x="1026.71" y="440.14" width="30.90" height="30.89" fill="rgb(90,90,90)"/>
<rect x="1057.01" y="440.14" width="30.90" height="30.89" fill="rgb(40,40,40)"/>
<rect x="1087.30" y="440.14" width="30.90" height="30.89" fill="rgb(30,30,30)"/>
<rect x="1117.60" y="440.14" width="30.90" height="30.89" fill="rgb(30,30,30)"/>
<rect x="360.20" y="470.42" width="30.90" height="30.89" fill="rgb(188,188,188)"/>
<rect x="390.50" y="470.42" width="30.90" height="30.89" fill="rgb(188,188,188)"/>
<rect x="420.80" y="470.42" width="30.90" height="30.89" fill="rgb(182,182,182)"/>
<rect x="451.09" y="470.42" width="30.90" height="30.89" fill="rgb(180,180,180)"/>
<rect x="481.39" y="470.42" width="30.90" height="30.89" fill="rgb(175,175,175)"/>
<rect x="511.68" y="470.42" width="30.90" height="30.89" fill="rgb(170,170,170)"/>
<rect x="541.98" y="470.42" width="30.90" height="30.89" fill="rgb(165,165,165)"/>
<rect x="572.27" y="470.42" width="30.90" height="30.89" fill="rgb(160,160,160)"/>
<rect x="602.57" y="470.42" width="30.90" height="30.89" fill="rgb(150,150,150)"/>
<rect x="632.87" y="470.42" width="30.90" height="30.89" fill="rgb(110,110,110)"/>
<rect x="663.16" y="470.42" width="30.90" height="30.89" fill="rgb(120,120,120)"/>
<rect x="693.46" y="470.42" width="30.90" height="30.89" fill="rgb(80,80,80)"/>
<rect x="723.75" y="470.42" width="30.90" height="30.89" fill="rgb(90,90,90)"/>
<rect x="754.05" y="470.42" width="30.90" height="30.89" fill="rgb(140,140,140)"/>
<rect x="784.35" y="470.42" width="30.90" height="30.89" fill="rgb(140,140,140)"/>
<rect x="814.64" y="470.42" width="30.90" height="30.89" fill="rgb(155,155,155)"/>
<rect x="844.94" y="470.42" width="30.90" height="30.89" fill="rgb(165,165,165)"/>
<rect x="875.23" y="470.42" width="30.90" height="30.89" fill="rgb(170,170,170)"/>
<rect x="905.53" y="470.42" width="30.90" height="30.89" fill="rgb(155,155,155)"/>
<rect x="935.82" y="470.42" width="30.90" height="30.89" fill="rgb(120,120,120)"/>
<rect x="966.12" y="470.42" width="30.90" height="30.89" fill="rgb(125,125,125)"/>
<rect x="996.42" y="470.42" width="30.90" height="30.89" fill="rgb(130,130,130)"/>
<rect x="1026.71" y="470.42" width="30.90" height="30.89" fill="rgb(100,100,100)"/>
<rect x="1057.01" y="470.42" width="30.90" height="30.89" fill="rgb(35,35,35)"/>
<rect x="1087.30" y="470.42" width="30.90" height="30.89" fill="rgb(25,25,25)"/>
<rect x="1117.60" y="470.42" width="30.90" height="30.89" fill="rgb(25,25,25)"/>
<rect x="360.20" y="500.71" width="30.90" height="30.89" fill="rgb(188,188,188)"/>
<rect x="390.50" y="500.71" width="30.90" height="30.89" fill="rgb(188,188,188)"/>
<rect x="420.80" y="500.71" width="30.90" height="30.89" fill="rgb(182,182,182)"/>
<rect x="451.09" y="500.71" width="30.90" height="30.89" fill="rgb(175,175,175)"/>
<rect x="481.39" y="500.71" width="30.90" height="30.89" fill="rgb(170,170,170)"/>
<rect x="511.68" y="500.71" width="30.90" height="30.89" fill="rgb(165,165,165)"/>
<rect x="541.98" y="500.71" width="30.90" height="30.89" fill="rgb(160,160,160)"/>
<rect x="572.27" y="500.71" width="30.90" height="30.89" fill="rgb(150,150,150)"/>
<rect x="602.57" y="500.71" width="30.90" height="30.89" fill="rgb(140,140,140)"/>
<rect x="632.87" y="500.71" width="30.90" height="30.89" fill="rgb(100,100,100)"/>
<rect x="663.16" y="500.71" width="30.90" height="30.89" fill="rgb(110,110,110)"/>
<rect x="693.46" y="500.71" width="30.90" height="30.89" fill="rgb(80,80,80)"/>
<rect x="723.75" y="500.71" width="30.90" height="30.89" fill="rgb(95,95,95)"/>
<rect x="754.05" y="500.71" width="30.90" height="30.89" fill="rgb(140,140,140)"/>
<rect x="784.35" y="500.71" width="30.90" height="30.89" fill="rgb(140,140,140)"/>
<rect x="814.64" y="500.71" width="30.90" height="30.89" fill="rgb(165,165,165)"/>
<rect x="844.94" y="500.71" width="30.90" height="30.89" fill="rgb(160,160,160)"/>
<rect x="875.23" y="500.71" width="30.90" height="30.89" fill="rgb(155,155,155)"/>
<rect x="905.53" y="500.71" width="30.90" height="30.89" fill="rgb(140,140,140)"/>
<rect x="935.82" y="500.71" width="30.90" height="30.89" fill="rgb(120,120,120)"/>
<rect x="966.12" y="500.71" width="30.90" height="30.89" fill="rgb(130,130,130)"/>
<rect x="996.42" y="500.71" width="30.90" height="30.89" fill="rgb(120,120,120)"/>
<rect x="1026.71" y="500.71" width="30.90" height="30.89" fill="rgb(90,90,90)"/>
<rect x="1057.01" y="500.71" width="30.90" height="30.89" fill="rgb(30,30,30)"/>
<rect x="1087.30" y="500.71" width="30.90" height="30.89" fill="rgb(20,20,20)"/>
<rect x="1117.60" y="500.71" width="30.90" height="30.89" fill="rgb(20,20,20)"/>
<rect x="360.20" y="531.00" width="30.90" height="30.89" fill="rgb(185,185,185)"/>
<rect x="390.50" y="531.00" width="30.90" height="30.89" fill="rgb(185,185,185)"/>
<rect x="420.80" y="531.00" width="30.90" height="30.89" fill="rgb(180,180,180)"/>
<rect x="451.09" y="531.00" width="30.90" height="30.89" fill="rgb(170,170,170)"/>
<rect x="481.39" y="531.00" width="30.90" height="30.89" fill="rgb(165,165,165)"/>
<rect x="511.68" y="531.00" width="30.90" height="30.89" fill="rgb(160,160,160)"/>
<rect x="541.98" y="531.00" width="30.90" height="30.89" fill="rgb(150,150,150)"/>
<rect x="572.27" y="531.00" width="30.90" height="30.89" fill="rgb(140,140,140)"/>
<rect x="602.57" y="531.00" width="30.90" height="30.89" fill="rgb(120,120,120)"/>
<rect x="632.87" y="531.00" width="30.90" height="30.89" fill="rgb(95,95,95)"/>
<rect x="663.16" y="531.00" width="30.90" height="30.89" fill="rgb(90,90,90)"/>
<rect x="693.46" y="531.00" width="30.90" height="30.89" fill="rgb(85,85,85)"/>
<rect x="723.75" y="531.00" width="30.90" height="30.89" fill="rgb(105,105,105)"/>
<rect x="754.05" y="531.00" width="30.90" height="30.89" fill="rgb(135,135,135)"/>
<rect x="784.35" y="531.00" width="30.90" height="30.89" fill="rgb(130,130,130)"/>
<rect x="814.64" y="531.00" width="30.90" height="30.89" fill="rgb(160,160,160)"/>
<rect x="844.94" y="531.00" width="30.90" height="30.89" fill="rgb(160,160,160)"/>
<rect x="875.23" y="531.00" width="30.90" height="30.89" fill="rgb(150,150,150)"/>
<rect x="905.53" y="531.00" width="30.90" height="30.89" fill="rgb(125,125,125)"/>
<rect x="935.82" y="531.00" width="30.90" height="30.89" fill="rgb(110,110,110)"/>
<rect x="966.12" y="531.00" width="30.90" height="30.89" fill="rgb(120,120,120)"/>
<rect x="996.42" y="531.00" width="30.90" height="30.89" fill="rgb(115,115,115)"/>
<rect x="1026.71" y="531.00" width="30.90" height="30.89" fill="rgb(90,90,90)"/>
<rect x="1057.01" y="531.00" width="30.90" height="30.89" fill="rgb(30,30,30)"/>
<rect x="1087.30" y="531.00" width="30.90" height="30.89" fill="rgb(20,20,20)"/>
<rect x="1117.60" y="531.00" width="30.90" height="30.89" fill="rgb(20,20,20)"/>
<rect x="360.20" y="561.29" width="30.90" height="30.89" fill="rgb(180,180,180)"/>
<rect x="390.50" y="561.29" width="30.90" height="30.89" fill="rgb(180,180,180)"/>
<rect x="420.80" y="561.29" width="30.90" height="30.89" fill="rgb(175,175,175)"/>
<rect x="451.09" y="561.29" width="30.90" height="30.89" fill="rgb(170,170,170)"/>
<rect x="481.39" y="561.29" width="30.90" height="30.89" fill="rgb(160,160,160)"/>
<rect x="511.68" y="561.29" width="30.90" height="30.89" fill="rgb(155,155,155)"/>
<rect x="541.98" y="561.29" width="30.90" height="30.89" fill="rgb(145,145,145)"/>
<rect x="572.27" y="561.29" width="30.90" height="30.89" fill="rgb(130,130,130)"/>
<rect x="602.57" y="561.29" width="30.90" height="30.89" fill="rgb(100,100,100)"/>
<rect x="632.87" y="561.29" width="30.90" height="30.89" fill="rgb(80,80,80)"/>
<rect x="663.16" y="561.29" width="30.90" height="30.89" fill="rgb(70,70,70)"/>
<rect x="693.46" y="561.29" width="30.90" height="30.89" fill="rgb(90,90,90)"/>
<rect x="723.75" y="561.29" width="30.90" height="30.89" fill="rgb(110,110,110)"/>
<rect x="754.05" y="561.29" width="30.90" height="30.89" fill="rgb(130,130,130)"/>
<rect x="784.35" y="561.29" width="30.90" height="30.89" fill="rgb(135,135,135)"/>
<rect x="814.64" y="561.29" width="30.90" height="30.89" fill="rgb(165,165,165)"/>
<rect x="844.94" y="561.29" width="30.90" height="30.89" fill="rgb(155,155,155)"/>
<rect x="875.23" y="561.29" width="30.90" height="30.89" fill="rgb(145,145,145)"/>
<rect x="905.53" y="561.29" width="30.90" height="30.89" fill="rgb(120,120,120)"/>
<rect x="935.82" y="561.29" width="30.90" height="30.89" fill="rgb(110,110,110)"/>
<rect x="966.12" y="561.29" width="30.90" height="30.89" fill="rgb(110,110,110)"/>
<rect x="996.42" y="561.29" width="30.90" height="30.89" fill="rgb(105,105,105)"/>
<rect x="1026.71" y="561.29" width="30.90" height="30.89" fill="rgb(80,80,80)"/>
<rect x="1057.01" y="561.29" width="30.90" height="30.89" fill="rgb(30,30,30)"/>
<rect x="1087.30" y="561.29" width="30.90" height="30.89" fill="rgb(25,25,25)"/>
<rect x="1117.60" y="561.29" width="30.90" height="30.89" fill="rgb(25,25,25)"/>
<rect x="360.20" y="591.57" width="30.90" height="30.89" fill="rgb(175,175,175)"/>
<rect x="390.50" y="591.57" width="30.90" height="30.89" fill="rgb(175,175,175)"/>
<rect x="420.80" y="591.57" width="30.90" height="30.89" fill="rgb(170,170,170)"/>
<rect x="451.09" y="591.57" width="30.90" height="30.89" fill="rgb(165,165,165)"/>
<rect x="481.39" y="591.57" width="30.90" height="30.89" fill="rgb(170,170,170)"/>
<rect x="511.68" y="591.57" width="30.90" height="30.89" fill="rgb(168,168,168)"/>
<rect x="541.98" y="591.57" width="30.90" height="30.89" fill="rgb(162,162,162)"/>
<rect x="572.27" y="591.57" width="30.90" height="30.89" fill="rgb(140,140,140)"/>
<rect x="602.57" y="591.57" width="30.90" height="30.89" fill="rgb(98,98,98)"/>
<rect x="632.87" y="591.57" width="30.90" height="30.89" fill="rgb(88,88,88)"/>
<rect x="663.16" y="591.57" width="30.90" height="30.89" fill="rgb(98,98,98)"/>
<rect x="693.46" y="591.57" width="30.90" height="30.89" fill="rgb(108,108,108)"/>
<rect x="723.75" y="591.57" width="30.90" height="30.89" fill="rgb(118,118,118)"/>
<rect x="754.05" y="591.57" width="30.90" height="30.89" fill="rgb(100,100,100)"/>
<rect x="784.35" y="591.57" width="30.90" height="30.89" fill="rgb(95,95,95)"/>
<rect x="814.64" y="591.57" width="30.90" height="30.89" fill="rgb(100,100,100)"/>
<rect x="844.94" y="591.57" width="30.90" height="30.89" fill="rgb(110,110,110)"/>
<rect x="875.23" y="591.57" width="30.90" height="30.89" fill="rgb(95,95,95)"/>
<rect x="905.53" y="591.57" width="30.90" height="30.89" fill="rgb(70,70,70)"/>
<rect x="935.82" y="591.57" width="30.90" height="30.89" fill="rgb(70,70,70)"/>
<rect x="966.12" y="591.57" width="30.90" height="30.89" fill="rgb(55,55,55)"/>
<rect x="996.42" y="591.57" width="30.90" height="30.89" fill="rgb(45,45,45)"/>
<rect x="1026.71" y="591.57" width="30.90" height="30.89" fill="rgb(35,35,35)"/>
<rect x="1057.01" y="591.57" width="30.90" height="30.89" fill="rgb(25,25,25)"/>
<rect x="1087.30" y="591.57" width="30.90" height="30.89" fill="rgb(20,20,20)"/>
<rect x="1117.60" y="591.57" width="30.90" height="30.89" fill="rgb(20,20,20)"/>
<rect x="360.20" y="621.86" width="30.90" height="30.89" fill="rgb(170,170,170)"/>
<rect x="390.50" y="621.86" width="30.90" height="30.89" fill="rgb(170,170,170)"/>
<rect x="420.80" y="621.86" width="30.90" height="30.89" fill="rgb(165,165,165)"/>
<rect x="451.09" y="621.86" width="30.90" height="30.89" fill="rgb(160,160,160)"/>
<rect x="481.39" y="621.86" width="30.90" height="30.89" fill="rgb(160,160,160)"/>
<rect x="511.68" y="621.86" width="30.90" height="30.89" fill="rgb(163,163,163)"/>
<rect x="541.98" y="621.86" width="30.90" height="30.89" fill="rgb(152,152,152)"/>
<rect x="572.27" y="621.86" width="30.90" height="30.89" fill="rgb(130,130,130)"/>
<rect x="602.57" y="621.86" width="30.90" height="30.89" fill="rgb(108,108,108)"/>
<rect x="632.87" y="621.86" width="30.90" height="30.89" fill="rgb(93,93,93)"/>
<rect x="663.16" y="621.86" width="30.90" height="30.89" fill="rgb(108,108,108)"/>
<rect x="693.46" y="621.86" width="30.90" height="30.89" fill="rgb(118,118,118)"/>
<rect x="723.75" y="621.86" width="30.90" height="30.89" fill="rgb(118,118,118)"/>
<rect x="754.05" y="621.86" width="30.90" height="30.89" fill="rgb(95,95,95)"/>
<rect x="784.35" y="621.86" width="30.90" height="30.89" fill="rgb(85,85,85)"/>
<rect x="814.64" y="621.86" width="30.90" height="30.89" fill="rgb(100,100,100)"/>
<rect x="844.94" y="621.86" width="30.90" height="30.89" fill="rgb(110,110,110)"/>
<rect x="875.23" y="621.86" width="30.90" height="30.89" fill="rgb(90,90,90)"/>
<rect x="905.53" y="621.86" width="30.90" height="30.89" fill="rgb(65,65,65)"/>
<rect x="935.82" y="621.86" width="30.90" height="30.89" fill="rgb(50,50,50)"/>
<rect x="966.12" y="621.86" width="30.90" height="30.89" fill="rgb(40,40,40)"/>
<rect x="996.42" y="621.86" width="30.90" height="30.89" fill="rgb(45,45,45)"/>
<rect x="1026.71" y="621.86" width="30.90" height="30.89" fill="rgb(40,40,40)"/>
<rect x="1057.01" y="621.86" width="30.90" height="30.89" fill="rgb(35,35,35)"/>
<rect x="1087.30" y="621.86" width="30.90" height="30.89" fill="rgb(45,45,45)"/>
<rect x="1117.60" y="621.86" width="30.90" height="30.89" fill="rgb(45,45,45)"/>
<rect x="360.20" y="652.15" width="30.90" height="30.89" fill="rgb(170,170,170)"/>
<rect x="390.50" y="652.15" width="30.90" height="30.89" fill="rgb(170,170,170)"/>
<rect x="420.80" y="652.15" width="30.90" height="30.89" fill="rgb(160,160,160)"/>
<rect x="451.09" y="652.15" width="30.90" height="30.89" fill="rgb(155,155,155)"/>
<rect x="481.39" y="652.15" width="30.90" height="30.89" fill="rgb(155,155,155)"/>
<rect x="511.68" y="652.15" width="30.90" height="30.89" fill="rgb(153,153,153)"/>
<rect x="541.98" y="652.15" width="30.90" height="30.89" fill="rgb(142,142,142)"/>
<rect x="572.27" y="652.15" width="30.90" height="30.89" fill="rgb(120,120,120)"/>
<rect x="602.57" y="652.15" width="30.90" height="30.89" fill="rgb(103,103,103)"/>
<rect x="632.87" y="652.15" width="30.90" height="30.89" fill="rgb(118,118,118)"/>
<rect x="663.16" y="652.15" width="30.90" height="30.89" fill="rgb(130,130,130)"/>
<rect x="693.46" y="652.15" width="30.90" height="30.89" fill="rgb(138,138,138)"/>
<rect x="723.75" y="652.15" width="30.90" height="30.89" fill="rgb(132,132,132)"/>
<rect x="754.05" y="652.15" width="30.90" height="30.89" fill="rgb(100,100,100)"/>
<rect x="784.35" y="652.15" width="30.90" height="30.89" fill="rgb(90,90,90)"/>
<rect x="814.64" y="652.15" width="30.90" height="30.89" fill="rgb(105,105,105)"/>
<rect x="844.94" y="652.15" width="30.90" height="30.89" fill="rgb(110,110,110)"/>
<rect x="875.23" y="652.15" width="30.90" height="30.89" fill="rgb(95,95,95)"/>
<rect x="905.53" y="652.15" width="30.90" height="30.89" fill="rgb(65,65,65)"/>
<rect x="935.82" y="652.15" width="30.90" height="30.89" fill="rgb(40,40,40)"/>
<rect x="966.12" y="652.15" width="30.90" height="30.89" fill="rgb(35,35,35)"/>
<rect x="996.42" y="652.15" width="30.90" height="30.89" fill="rgb(40,40,40)"/>
<rect x="1026.71" y="652.15" width="30.90" height="30.89" fill="rgb(45,45,45)"/>
<rect x="1057.01" y="652.15" width="30.90" height="30.89" fill="rgb(40,40,40)"/>
<rect x="1087.30" y="652.15" width="30.90" height="30.89" fill="rgb(60,60,60)"/>
<rect x="1117.60" y="652.15" width="30.90" height="30.89" fill="rgb(60,60,60)"/>
<rect x="360.20" y="682.44" width="30.90" height="30.89" fill="rgb(165,165,165)"/>
<rect x="390.50" y="682.44" width="30.90" height="30.89" fill="rgb(165,165,165)"/>
<rect x="420.80" y="682.44" width="30.90" height="30.89" fill="rgb(155,155,155)"/>
<rect x="451.09" y="682.44" width="30.90" height="30.89" fill="rgb(145,145,145)"/>
<rect x="481.39" y="682.44" width="30.90" height="30.89" fill="rgb(145,145,145)"/>
<rect x="511.68" y="682.44" width="30.90" height="30.89" fill="rgb(143,143,143)"/>
<rect x="541.98" y="682.44" width="30.90" height="30.89" fill="rgb(132,132,132)"/>
<rect x="572.27" y="682.44" width="30.90" height="30.89" fill="rgb(110,110,110)"/>
<rect x="602.57" y="682.44" width="30.90" height="30.89" fill="rgb(130,130,130)"/>
<rect x="632.87" y="682.44" width="30.90" height="30.89" fill="rgb(145,145,145)"/>
<rect x="663.16" y="682.44" width="30.90" height="30.89" fill="rgb(148,148,148)"/>
<rect x="693.46" y="682.44" width="30.90" height="30.89" fill="rgb(150,150,150)"/>
<rect x="723.75" y="682.44" width="30.90" height="30.89" fill="rgb(150,150,150)"/>
<rect x="754.05" y="682.44" width="30.90" height="30.89" fill="rgb(105,105,105)"/>
<rect x="784.35" y="682.44" width="30.90" height="30.89" fill="rgb(90,90,90)"/>
<rect x="814.64" y="682.44" width="30.90" height="30.89" fill="rgb(95,95,95)"/>
<rect x="844.94" y="682.44" width="30.90" height="30.89" fill="rgb(100,100,100)"/>
<rect x="875.23" y="682.44" width="30.90" height="30.89" fill="rgb(85,85,85)"/>
<rect x="905.53" y="682.44" width="30.90" height="30.89" fill="rgb(60,60,60)"/>
<rect x="935.82" y="682.44" width="30.90" height="30.89" fill="rgb(35,35,35)"/>
<rect x="966.12" y="682.44" width="30.90" height="30.89" fill="rgb(40,40,40)"/>
<rect x="996.42" y="682.44" width="30.90" height="30.89" fill="rgb(45,45,45)"/>
<rect x="1026.71" y="682.44" width="30.90" height="30.89" fill="rgb(50,50,50)"/>
<rect x="1057.01" y="682.44" width="30.90" height="30.89" fill="rgb(55,55,55)"/>
<rect x="1087.30" y="682.44" width="30.90" height="30.89" fill="rgb(60,60,60)"/>
<rect x="1117.60" y="682.44" width="30.90" height="30.89" fill="rgb(60,60,60)"/>
<rect x="360.20" y="712.72" width="30.90" height="30.89" fill="rgb(160,160,160)"/>
<rect x="390.50" y="712.72" width="30.90" height="30.89" fill="rgb(160,160,160)"/>
<rect x="420.80" y="712.72" width="30.90" height="30.89" fill="rgb(150,150,150)"/>
<rect x="451.09" y="712.72" width="30.90" height="30.89" fill="rgb(140,140,140)"/>
<rect x="481.39" y="712.72" width="30.90" height="30.89" fill="rgb(140,140,140)"/>
<rect x="511.68" y="712.72" width="30.90" height="30.89" fill="rgb(133,133,133)"/>
<rect x="541.98" y="712.72" width="30.90" height="30.89" fill="rgb(122,122,122)"/>
<rect x="572.27" y="712.72" width="30.90" height="30.89" fill="rgb(100,100,100)"/>
<rect x="602.57" y="712.72" width="30.90" height="30.89" fill="rgb(83,83,83)"/>
<rect x="632.87" y="712.72" width="30.90" height="30.89" fill="rgb(98,98,98)"/>
<rect x="663.16" y="712.72" width="30.90" height="30.89" fill="rgb(103,103,103)"/>
<rect x="693.46" y="712.72" width="30.90" height="30.89" fill="rgb(108,108,108)"/>
<rect x="723.75" y="712.72" width="30.90" height="30.89" fill="rgb(103,103,103)"/>
<rect x="754.05" y="712.72" width="30.90" height="30.89" fill="rgb(95,95,95)"/>
<rect x="784.35" y="712.72" width="30.90" height="30.89" fill="rgb(85,85,85)"/>
<rect x="814.64" y="712.72" width="30.90" height="30.89" fill="rgb(90,90,90)"/>
<rect x="844.94" y="712.72" width="30.90" height="30.89" fill="rgb(80,80,80)"/>
<rect x="875.23" y="712.72" width="30.90" height="30.89" fill="rgb(70,70,70)"/>
<rect x="905.53" y="712.72" width="30.90" height="30.89" fill="rgb(45,45,45)"/>
<rect x="935.82" y="712.72" width="30.90" height="30.89" fill="rgb(25,25,25)"/>
<rect x="966.12" y="712.72" width="30.90" height="30.89" fill="rgb(30,30,30)"/>
<rect x="996.42" y="712.72" width="30.90" height="30.89" fill="rgb(40,40,40)"/>
<rect x="1026.71" y="712.72" width="30.90" height="30.89" fill="rgb(45,45,45)"/>
<rect x="1057.01" y="712.72" width="30.90" height="30.89" fill="rgb(55,55,55)"/>
<rect x="1087.30" y="712.72" width="30.90" height="30.89" fill="rgb(70,70,70)"/>
<rect x="1117.60" y="712.72" width="30.90" height="30.89" fill="rgb(70,70,70)"/>
<rect x="360.20" y="743.01" width="30.90" height="30.89" fill="rgb(155,155,155)"/>
<rect x="390.50" y="743.01" width="30.90" height="30.89" fill="rgb(155,155,155)"/>
<rect x="420.80" y="743.01" width="30.90" height="30.89" fill="rgb(145,145,145)"/>
<rect x="451.09" y="743.01" width="30.90" height="30.89" fill="rgb(135,135,135)"/>
<rect x="481.39" y="743.01" width="30.90" height="30.89" fill="rgb(135,135,135)"/>
<rect x="511.68" y="743.01" width="30.90" height="30.89" fill="rgb(128,128,128)"/>
<rect x="541.98" y="743.01" width="30.90" height="30.89" fill="rgb(112,112,112)"/>
<rect x="572.27" y="743.01" width="30.90" height="30.89" fill="rgb(95,95,95)"/>
<rect x="602.57" y="743.01" width="30.90" height="30.89" fill="rgb(78,78,78)"/>
<rect x="632.87" y="743.01" width="30.90" height="30.89" fill="rgb(83,83,83)"/>
<rect x="663.16" y="743.01" width="30.90" height="30.89" fill="rgb(83,83,83)"/>
<rect x="693.46" y="743.01" width="30.90" height="30.89" fill="rgb(88,88,88)"/>
<rect x="723.75" y="743.01" width="30.90" height="30.89" fill="rgb(83,83,83)"/>
<rect x="754.05" y="743.01" width="30.90" height="30.89" fill="rgb(85,85,85)"/>
<rect x="784.35" y="743.01" width="30.90" height="30.89" fill="rgb(85,85,85)"/>
<rect x="814.64" y="743.01" width="30.90" height="30.89" fill="rgb(80,80,80)"/>
<rect x="844.94" y="743.01" width="30.90" height="30.89" fill="rgb(65,65,65)"/>
<rect x="875.23" y="743.01" width="30.90" height="30.89" fill="rgb(45,45,45)"/>
<rect x="905.53" y="743.01" width="30.90" height="30.89" fill="rgb(30,30,30)"/>
<rect x="935.82" y="743.01" width="30.90" height="30.89" fill="rgb(20,20,20)"/>
<rect x="966.12" y="743.01" width="30.90" height="30.89" fill="rgb(30,30,30)"/>
<rect x="996.42" y="743.01" width="30.90" height="30.89" fill="rgb(40,40,40)"/>
<rect x="1026.71" y="743.01" width="30.90" height="30.89" fill="rgb(45,45,45)"/>
<rect x="1057.01" y="743.01" width="30.90" height="30.89" fill="rgb(55,55,55)"/>
<rect x="1087.30" y="743.01" width="30.90" height="30.89" fill="rgb(75,75,75)"/>
<rect x="1117.60" y="743.01" width="30.90" height="30.89" fill="rgb(75,75,75)"/>
<rect x="360.20" y="773.30" width="30.90" height="30.89" fill="rgb(155,155,155)"/>
<rect x="390.50" y="773.30" width="30.90" height="30.89" fill="rgb(155,155,155)"/>
<rect x="420.80" y="773.30" width="30.90" height="30.89" fill="rgb(145,145,145)"/>
<rect x="451.09" y="773.30" width="30.90" height="30.89" fill="rgb(135,135,135)"/>
<rect x="481.39" y="773.30" width="30.90" height="30.89" fill="rgb(135,135,135)"/>
<rect x="511.68" y="773.30" width="30.90" height="30.89" fill="rgb(128,128,128)"/>
<rect x="541.98" y="773.30" width="30.90" height="30.89" fill="rgb(112,112,112)"/>
<rect x="572.27" y="773.30" width="30.90" height="30.89" fill="rgb(95,95,95)"/>
<rect x="602.57" y="773.30" width="30.90" height="30.89" fill="rgb(78,78,78)"/>
<rect x="632.87" y="773.30" width="30.90" height="30.89" fill="rgb(83,83,83)"/>
<rect x="663.16" y="773.30" width="30.90" height="30.89" fill="rgb(83,83,83)"/>
<rect x="693.46" y="773.30" width="30.90" height="30.89" fill="rgb(88,88,88)"/>
<rect x="723.75" y="773.30" width="30.90" height="30.89" fill="rgb(83,83,83)"/>
<rect x="754.05" y="773.30" width="30.90" height="30.89" fill="rgb(85,85,85)"/>
<rect x="784.35" y="773.30" width="30.90" height="30.89" fill="rgb(85,85,85)"/>
<rect x="814.64" y="773.30" width="30.90" height="30.89" fill="rgb(80,80,80)"/>
<rect x="844.94" y="773.30" width="30.90" height="30.89" fill="rgb(65,65,65)"/>
<rect x="875.23" y="773.30" width="30.90" height="30.89" fill="rgb(45,45,45)"/>
<rect x="905.53" y="773.30" width="30.90" height="30.89" fill="rgb(30,30,30)"/>
<rect x="935.82" y="773.30" width="30.90" height="30.89" fill="rgb(20,20,20)"/>
<rect x="966.12" y="773.30" width="30.90" height="30.89" fill="rgb(30,30,30)"/>
<rect x="996.42" y="773.30" width="30.90" height="30.89" fill="rgb(40,40,40)"/>
<rect x="1026.71" y="773.30" width="30.90" height="30.89" fill="rgb(45,45,45)"/>
<rect x="1057.01" y="773.30" width="30.90" height="30.89" fill="rgb(55,55,55)"/>
<rect x="1087.30" y="773.30" width="30.90" height="30.89" fill="rgb(75,75,75)"/>
<rect x="1117.60" y="773.30" width="30.90" height="30.89" fill="rgb(75,75,75)"/>
</g>
<filter id="fb5" x="-50%" y="-50%" width="200%" height="200%"><feGaussianBlur stdDeviation="5"/></filter>
<filter id="fb3" x="-50%" y="-50%" width="200%" height="200%"><feGaussianBlur stdDeviation="3"/></filter>
<filter id="fb8" x="-50%" y="-50%" width="200%" height="200%"><feGaussianBlur stdDeviation="8"/></filter>
<g filter="url(#fb8)" fill="#fff"><ellipse cx="488" cy="252" rx="45" ry="13" fill-opacity="0.22"/><ellipse cx="440" cy="80" rx="50" ry="18" fill-opacity="0.25"/></g>
<g filter="url(#fb5)" fill="#fff"><ellipse cx="428" cy="73" rx="34" ry="9" transform="rotate(6 428 73)" fill-opacity="0.8"/><ellipse cx="487" cy="127" rx="40" ry="8" transform="rotate(-41 487 127)" fill-opacity="0.6"/><path d="M496,141 Q530,146 556,134 Q570,126 575,116" stroke="#fff" stroke-width="9" fill="none" stroke-opacity="0.45"/><ellipse cx="396" cy="138" rx="12" ry="9" fill-opacity="0.5"/><path d="M390,190 Q405,186 425,170" stroke="#fff" stroke-width="10" fill="none" stroke-opacity="0.4"/></g>
<defs><linearGradient id="lobeg" gradientUnits="userSpaceOnUse" x1="0" y1="318" x2="0" y2="352"><stop offset="0" stop-color="#a6a6a6" stop-opacity="0"/><stop offset="1" stop-color="#a6a6a6" stop-opacity="1"/></linearGradient><filter id="fb1" x="-20%" y="-20%" width="140%" height="140%"><feGaussianBlur stdDeviation="1.5"/></filter></defs>
<polygon class="lobe" filter="url(#fb1)" fill="url(#lobeg)" points="385,318 500,322 491,339 484,371 504,387 498,404 488,418 457,428 434,421 424,438 407,455 385,462"/>
<g class="veins" filter="url(#fb5)" fill="none" stroke="#000" stroke-linecap="round"><path d="M892,224 C915,212 950,196 976,190 S1010,170 1025,155" stroke-width="14" stroke-opacity="0.25"/><path d="M1005,208 C1030,198 1055,185 1078,166 S1105,150 1122,146" stroke-width="12" stroke-opacity="0.25"/><ellipse cx="858" cy="258" rx="30" ry="22" transform="rotate(-35 858 258)" fill="#000" fill-opacity="0.25" stroke="none"/><path d="M936,458 L940,500 L937,540" stroke-width="8" stroke-opacity="0.2"/></g>
<g class="streak" filter="url(#fb5)" fill="#fff"><ellipse cx="672" cy="694" rx="85" ry="10" transform="rotate(-4 672 694)" fill-opacity="0.22"/><ellipse cx="610" cy="702" rx="30" ry="9" fill-opacity="0.12"/></g>
<defs><filter id="tx" filterUnits="userSpaceOnUse" x="390.5" y="46.4" width="727.1" height="726.9" color-interpolation-filters="sRGB"><feTurbulence type="fractalNoise" baseFrequency="0.045" numOctaves="4" seed="5"/><feColorMatrix type="matrix" values="1 0 0 0 0 1 0 0 0 0 1 0 0 0 0 0 0 0 0 1"/><feComponentTransfer><feFuncR type="linear" slope="2.0" intercept="-0.5"/><feFuncG type="linear" slope="2.0" intercept="-0.5"/><feFuncB type="linear" slope="2.0" intercept="-0.5"/></feComponentTransfer></filter><linearGradient id="txg" gradientUnits="userSpaceOnUse" x1="390.5" y1="0" x2="1117.6" y2="0"><stop offset="0" stop-color="#fff" stop-opacity="0.15"/><stop offset="0.2" stop-color="#fff" stop-opacity="0.15"/><stop offset="0.32" stop-color="#fff" stop-opacity="1"/><stop offset="1" stop-color="#fff" stop-opacity="1"/></linearGradient><filter id="mb" x="-10%" y="-10%" width="120%" height="120%"><feGaussianBlur stdDeviation="14"/></filter><mask id="txm" maskUnits="userSpaceOnUse" x="390.5" y="46.4" width="727.1" height="726.9"><rect x="390.5" y="46.4" width="727.1" height="726.9" fill="#fff" fill-opacity="0.12"/><polygon points="721,20 733,230 700,413 632,536 598,658 580,800 1150,800 1150,20" fill="#fff" filter="url(#mb)"/></mask></defs>
<g mask="url(#txm)" style="mix-blend-mode:overlay" opacity="0.2"><rect x="390.5" y="46.4" width="727.1" height="726.9" filter="url(#tx)"/></g>
</g>
<g clip-path="url(#axclip)" stroke="#b0b0b0" stroke-opacity="0.5" stroke-width="1.11" stroke-dasharray="4.11 1.78">
<line x1="418.30" y1="773.3" x2="418.30" y2="46.4"/>
<line x1="547.34" y1="773.3" x2="547.34" y2="46.4"/>
<line x1="676.38" y1="773.3" x2="676.38" y2="46.4"/>
<line x1="805.42" y1="773.3" x2="805.42" y2="46.4"/>
<line x1="934.46" y1="773.3" x2="934.46" y2="46.4"/>
<line x1="1063.50" y1="773.3" x2="1063.50" y2="46.4"/>
<line x1="390.5" y1="732.30" x2="1117.6" y2="732.30"/>
<line x1="390.5" y1="603.26" x2="1117.6" y2="603.26"/>
<line x1="390.5" y1="474.22" x2="1117.6" y2="474.22"/>
<line x1="390.5" y1="345.18" x2="1117.6" y2="345.18"/>
<line x1="390.5" y1="216.14" x2="1117.6" y2="216.14"/>
<line x1="390.5" y1="87.10" x2="1117.6" y2="87.10"/>
</g>
<g stroke="#f06e6e" stroke-opacity="0.45" stroke-width="1.4"><line x1="801.5" y1="46.4" x2="801.5" y2="773.3"/><line x1="390.5" y1="410.4" x2="1117.6" y2="410.4"/></g>
<circle cx="801.5" cy="410.4" r="6.95" fill="#cc181c" stroke="#fff" stroke-width="1.3"/>
<polygon points="1029.3,88.5 1043.9,119.3 1037.3,119.9 1047.0,192.6 1042.2,193.0 1032.9,120.3 1024.4,121.9" fill="#cc181c"/>
<text x="1029.10" y="77.00" font-size="19.44" text-anchor="middle" font-weight="bold" fill="#cc181c">N</text>
<rect x="390.5" y="46.4" width="727.10" height="726.90" fill="none" stroke="#000" stroke-width="1.11"/>
<g stroke="#000" stroke-width="1.11">
<line x1="418.30" y1="773.3" x2="418.30" y2="778.16"/>
<line x1="547.34" y1="773.3" x2="547.34" y2="778.16"/>
<line x1="676.38" y1="773.3" x2="676.38" y2="778.16"/>
<line x1="805.42" y1="773.3" x2="805.42" y2="778.16"/>
<line x1="934.46" y1="773.3" x2="934.46" y2="778.16"/>
<line x1="1063.50" y1="773.3" x2="1063.50" y2="778.16"/>
<line x1="390.5" y1="732.30" x2="385.64" y2="732.30"/>
<line x1="390.5" y1="603.26" x2="385.64" y2="603.26"/>
<line x1="390.5" y1="474.22" x2="385.64" y2="474.22"/>
<line x1="390.5" y1="345.18" x2="385.64" y2="345.18"/>
<line x1="390.5" y1="216.14" x2="385.64" y2="216.14"/>
<line x1="390.5" y1="87.10" x2="385.64" y2="87.10"/>
</g>
<text x="418.30" y="797.40" font-size="16.67" text-anchor="middle" fill="#000">660000</text>
<text x="547.34" y="797.40" font-size="16.67" text-anchor="middle" fill="#000">662000</text>
<text x="676.38" y="797.40" font-size="16.67" text-anchor="middle" fill="#000">664000</text>
<text x="805.42" y="797.40" font-size="16.67" text-anchor="middle" fill="#000">666000</text>
<text x="934.46" y="797.40" font-size="16.67" text-anchor="middle" fill="#000">668000</text>
<text x="1063.50" y="797.40" font-size="16.67" text-anchor="middle" fill="#000">670000</text>
<text x="379.20" y="739.90" font-size="16.67" text-anchor="end" fill="#000">4.228</text>
<text x="379.20" y="610.86" font-size="16.67" text-anchor="end" fill="#000">4.230</text>
<text x="379.20" y="481.82" font-size="16.67" text-anchor="end" fill="#000">4.232</text>
<text x="379.20" y="352.78" font-size="16.67" text-anchor="end" fill="#000">4.234</text>
<text x="379.20" y="223.74" font-size="16.67" text-anchor="end" fill="#000">4.236</text>
<text x="379.20" y="94.70" font-size="16.67" text-anchor="end" fill="#000">4.238</text>
<text x="389.60" y="43.30" font-size="13.89" text-anchor="start" fill="#000">1e6</text>
<text x="753.90" y="822.00" font-size="19.44" text-anchor="middle" fill="#000">Easting (m)</text>
<text transform="translate(320.9,411.7) rotate(-90)" font-size="19.44" text-anchor="middle">Northing (m)</text>
<text x="753.00" y="26.20" font-size="22.22" text-anchor="middle" fill="#000">Location 1 at 405nm (0.4um)</text>
<rect x="1181.5" y="46.4" width="36.0" height="726.90" fill="url(#cbg)"/>
<rect x="1181.5" y="46.4" width="36.0" height="726.90" fill="none" stroke="#000" stroke-width="1.11"/>
<g stroke="#000" stroke-width="1.11">
<line x1="1217.5" y1="766.90" x2="1222.36" y2="766.90"/>
<line x1="1217.5" y1="656.00" x2="1222.36" y2="656.00"/>
<line x1="1217.5" y1="545.10" x2="1222.36" y2="545.10"/>
<line x1="1217.5" y1="434.20" x2="1222.36" y2="434.20"/>
<line x1="1217.5" y1="323.30" x2="1222.36" y2="323.30"/>
<line x1="1217.5" y1="212.40" x2="1222.36" y2="212.40"/>
<line x1="1217.5" y1="101.50" x2="1222.36" y2="101.50"/>
</g>
<text x="1227.60" y="773.50" font-size="13.89" text-anchor="start" fill="#000">0.0</text>
<text x="1227.60" y="662.60" font-size="13.89" text-anchor="start" fill="#000">0.2</text>
<text x="1227.60" y="551.70" font-size="13.89" text-anchor="start" fill="#000">0.4</text>
<text x="1227.60" y="440.80" font-size="13.89" text-anchor="start" fill="#000">0.6</text>
<text x="1227.60" y="329.90" font-size="13.89" text-anchor="start" fill="#000">0.8</text>
<text x="1227.60" y="219.00" font-size="13.89" text-anchor="start" fill="#000">1.0</text>
<text x="1227.60" y="108.10" font-size="13.89" text-anchor="start" fill="#000">1.2</text>
<text transform="translate(1270.3,412.3) rotate(-90)" font-size="16.67" text-anchor="middle">Reflectance</text>
<g clip-path="url(#ax2clip)">
<rect x="43.56" y="882.4" width="90.73" height="242.90" fill="#ee82ee" fill-opacity="0.2" stroke="#ee82ee" stroke-opacity="0.2" stroke-width="1.39"/>
<rect x="134.30" y="882.4" width="21.17" height="242.90" fill="#0000ff" fill-opacity="0.2" stroke="#0000ff" stroke-opacity="0.2" stroke-width="1.39"/>
<rect x="155.47" y="882.4" width="9.07" height="242.90" fill="#00ffff" fill-opacity="0.2" stroke="#00ffff" stroke-opacity="0.2" stroke-width="1.39"/>
<rect x="164.54" y="882.4" width="39.32" height="242.90" fill="#008000" fill-opacity="0.2" stroke="#008000" stroke-opacity="0.2" stroke-width="1.39"/>
<rect x="203.86" y="882.4" width="15.12" height="242.90" fill="#ffff00" fill-opacity="0.2" stroke="#ffff00" stroke-opacity="0.2" stroke-width="1.39"/>
<rect x="218.98" y="882.4" width="21.17" height="242.90" fill="#ffa500" fill-opacity="0.2" stroke="#ffa500" stroke-opacity="0.2" stroke-width="1.39"/>
<rect x="240.15" y="882.4" width="69.56" height="242.90" fill="#ff0000" fill-opacity="0.2" stroke="#ff0000" stroke-opacity="0.2" stroke-width="1.39"/>
<rect x="309.71" y="882.4" width="217.76" height="242.90" fill="#808080" fill-opacity="0.2" stroke="#808080" stroke-opacity="0.2" stroke-width="1.39"/>
<rect x="672.64" y="882.4" width="63.51" height="242.90" fill="#0000ff" fill-opacity="0.1" stroke="#0000ff" stroke-opacity="0.1" stroke-width="1.39"/>
<rect x="944.84" y="882.4" width="99.81" height="242.90" fill="#0000ff" fill-opacity="0.1" stroke="#0000ff" stroke-opacity="0.1" stroke-width="1.39"/>
<g stroke="#b0b0b0" stroke-opacity="0.3" stroke-width="1.11">
<line x1="164.54" y1="882.4" x2="164.54" y2="1125.3"/>
<line x1="315.76" y1="882.4" x2="315.76" y2="1125.3"/>
<line x1="466.98" y1="882.4" x2="466.98" y2="1125.3"/>
<line x1="618.20" y1="882.4" x2="618.20" y2="1125.3"/>
<line x1="769.42" y1="882.4" x2="769.42" y2="1125.3"/>
<line x1="920.64" y1="882.4" x2="920.64" y2="1125.3"/>
<line x1="1071.86" y1="882.4" x2="1071.86" y2="1125.3"/>
<line x1="1223.08" y1="882.4" x2="1223.08" y2="1125.3"/>
<line x1="1374.30" y1="882.4" x2="1374.30" y2="1125.3"/>
<line x1="89.5" y1="1115.60" x2="1374.3" y2="1115.60"/>
<line x1="89.5" y1="1074.30" x2="1374.3" y2="1074.30"/>
<line x1="89.5" y1="1033.00" x2="1374.3" y2="1033.00"/>
<line x1="89.5" y1="991.70" x2="1374.3" y2="991.70"/>
<line x1="89.5" y1="950.40" x2="1374.3" y2="950.40"/>
<line x1="89.5" y1="909.10" x2="1374.3" y2="909.10"/>
</g>
<g fill="#000">
<circle cx="92.54" cy="1105.36" r="4.86"/>
<circle cx="95.56" cy="1104.04" r="4.86"/>
<circle cx="98.59" cy="1105.03" r="4.86"/>
<circle cx="101.62" cy="1104.37" r="4.86"/>
<circle cx="104.65" cy="1104.37" r="4.86"/>
<circle cx="107.68" cy="1104.37" r="4.86"/>
<circle cx="110.71" cy="1104.37" r="4.86"/>
<circle cx="113.74" cy="1104.37" r="4.86"/>
<circle cx="116.77" cy="1104.37" r="4.86"/>
<circle cx="119.80" cy="1104.37" r="4.86"/>
<circle cx="122.83" cy="1104.37" r="4.86"/>
<circle cx="125.86" cy="1104.37" r="4.86"/>
<circle cx="128.89" cy="1104.37" r="4.86"/>
<circle cx="131.92" cy="1104.37" r="4.86"/>
<circle cx="134.94" cy="1104.37" r="4.86"/>
<circle cx="137.97" cy="1104.37" r="4.86"/>
<circle cx="141.00" cy="1104.37" r="4.86"/>
<circle cx="144.03" cy="1104.37" r="4.86"/>
<circle cx="147.06" cy="1104.37" r="4.86"/>
<circle cx="150.09" cy="1104.37" r="4.86"/>
<circle cx="153.12" cy="1104.37" r="4.86"/>
<circle cx="156.15" cy="1104.37" r="4.86"/>
<circle cx="159.18" cy="1104.37" r="4.86"/>
<circle cx="162.21" cy="1104.37" r="4.86"/>
<circle cx="165.24" cy="1104.37" r="4.86"/>
<circle cx="168.27" cy="1104.37" r="4.86"/>
<circle cx="171.30" cy="1104.37" r="4.86"/>
<circle cx="174.32" cy="1104.37" r="4.86"/>
<circle cx="177.35" cy="1104.37" r="4.86"/>
<circle cx="180.38" cy="1104.37" r="4.86"/>
<circle cx="183.41" cy="1104.37" r="4.86"/>
<circle cx="186.44" cy="1104.37" r="4.86"/>
<circle cx="189.47" cy="1104.37" r="4.86"/>
<circle cx="192.50" cy="1104.37" r="4.86"/>
<circle cx="195.53" cy="1104.37" r="4.86"/>
<circle cx="198.56" cy="1104.37" r="4.86"/>
<circle cx="201.59" cy="1104.37" r="4.86"/>
<circle cx="204.62" cy="1104.37" r="4.86"/>
<circle cx="207.65" cy="1104.37" r="4.86"/>
<circle cx="210.68" cy="1104.37" r="4.86"/>
<circle cx="213.70" cy="1104.37" r="4.86"/>
<circle cx="216.73" cy="1104.37" r="4.86"/>
<circle cx="219.76" cy="1104.37" r="4.86"/>
<circle cx="222.79" cy="1104.37" r="4.86"/>
<circle cx="225.82" cy="1104.37" r="4.86"/>
<circle cx="228.85" cy="1104.37" r="4.86"/>
<circle cx="231.88" cy="1104.37" r="4.86"/>
<circle cx="234.91" cy="1104.37" r="4.86"/>
<circle cx="237.94" cy="1104.37" r="4.86"/>
<circle cx="240.97" cy="1104.37" r="4.86"/>
<circle cx="244.00" cy="1104.37" r="4.86"/>
<circle cx="247.03" cy="1104.37" r="4.86"/>
<circle cx="250.06" cy="1104.37" r="4.86"/>
<circle cx="253.08" cy="1104.37" r="4.86"/>
<circle cx="256.11" cy="1104.37" r="4.86"/>
<circle cx="259.14" cy="1104.37" r="4.86"/>
<circle cx="262.17" cy="1104.37" r="4.86"/>
<circle cx="265.20" cy="1104.37" r="4.86"/>
<circle cx="268.23" cy="1104.37" r="4.86"/>
<circle cx="271.26" cy="1104.37" r="4.86"/>
<circle cx="274.29" cy="1104.37" r="4.86"/>
<circle cx="277.32" cy="1104.37" r="4.86"/>
<circle cx="280.35" cy="1104.37" r="4.86"/>
<circle cx="283.38" cy="1104.37" r="4.86"/>
<circle cx="286.41" cy="1104.37" r="4.86"/>
<circle cx="289.44" cy="1104.37" r="4.86"/>
<circle cx="292.46" cy="1104.37" r="4.86"/>
<circle cx="295.49" cy="1104.37" r="4.86"/>
<circle cx="298.52" cy="1104.37" r="4.86"/>
<circle cx="301.55" cy="1104.37" r="4.86"/>
<circle cx="304.58" cy="1104.37" r="4.86"/>
<circle cx="307.61" cy="1104.37" r="4.86"/>
<circle cx="310.64" cy="1103.38" r="4.86"/>
<circle cx="313.67" cy="1103.38" r="4.86"/>
<circle cx="316.70" cy="1103.38" r="4.86"/>
<circle cx="319.73" cy="1103.38" r="4.86"/>
<circle cx="322.76" cy="1103.38" r="4.86"/>
<circle cx="325.79" cy="1103.38" r="4.86"/>
<circle cx="328.82" cy="1103.38" r="4.86"/>
<circle cx="331.84" cy="1103.38" r="4.86"/>
<circle cx="334.87" cy="1103.38" r="4.86"/>
<circle cx="337.90" cy="1103.38" r="4.86"/>
<circle cx="340.93" cy="1103.38" r="4.86"/>
<circle cx="343.96" cy="1103.38" r="4.86"/>
<circle cx="346.99" cy="1103.38" r="4.86"/>
<circle cx="350.02" cy="1103.38" r="4.86"/>
<circle cx="353.05" cy="1103.38" r="4.86"/>
<circle cx="356.08" cy="1103.38" r="4.86"/>
<circle cx="359.11" cy="1103.38" r="4.86"/>
<circle cx="362.14" cy="1103.38" r="4.86"/>
<circle cx="365.17" cy="1103.38" r="4.86"/>
<circle cx="368.20" cy="1103.38" r="4.86"/>
<circle cx="371.23" cy="1103.38" r="4.86"/>
<circle cx="374.25" cy="1103.38" r="4.86"/>
<circle cx="377.28" cy="1103.38" r="4.86"/>
<circle cx="380.31" cy="1103.38" r="4.86"/>
<circle cx="383.34" cy="1103.38" r="4.86"/>
<circle cx="386.37" cy="1103.38" r="4.86"/>
<circle cx="389.40" cy="1103.38" r="4.86"/>
<circle cx="392.43" cy="1103.38" r="4.86"/>
<circle cx="395.46" cy="1103.38" r="4.86"/>
<circle cx="398.49" cy="1103.38" r="4.86"/>
<circle cx="401.52" cy="1103.38" r="4.86"/>
<circle cx="404.55" cy="1104.70" r="4.86"/>
<circle cx="407.58" cy="1104.70" r="4.86"/>
<circle cx="410.61" cy="1104.70" r="4.86"/>
<circle cx="413.63" cy="1104.70" r="4.86"/>
<circle cx="416.66" cy="1104.70" r="4.86"/>
<circle cx="419.69" cy="1104.70" r="4.86"/>
<circle cx="422.72" cy="1104.70" r="4.86"/>
<circle cx="425.75" cy="1104.70" r="4.86"/>
<circle cx="428.78" cy="1104.70" r="4.86"/>
<circle cx="431.81" cy="1104.70" r="4.86"/>
<circle cx="434.84" cy="1104.70" r="4.86"/>
<circle cx="437.87" cy="1104.70" r="4.86"/>
<circle cx="440.90" cy="1104.70" r="4.86"/>
<circle cx="443.93" cy="1104.70" r="4.86"/>
<circle cx="446.96" cy="1104.70" r="4.86"/>
<circle cx="449.99" cy="1104.70" r="4.86"/>
<circle cx="453.01" cy="1104.70" r="4.86"/>
<circle cx="456.04" cy="1104.70" r="4.86"/>
<circle cx="459.07" cy="1104.70" r="4.86"/>
<circle cx="462.10" cy="1104.70" r="4.86"/>
<circle cx="465.13" cy="1104.70" r="4.86"/>
<circle cx="468.16" cy="1104.70" r="4.86"/>
<circle cx="471.19" cy="1104.70" r="4.86"/>
<circle cx="474.22" cy="1104.70" r="4.86"/>
<circle cx="477.25" cy="1104.70" r="4.86"/>
<circle cx="480.28" cy="1104.70" r="4.86"/>
<circle cx="483.31" cy="1104.70" r="4.86"/>
<circle cx="486.34" cy="1104.70" r="4.86"/>
<circle cx="489.37" cy="1104.70" r="4.86"/>
<circle cx="492.39" cy="1104.70" r="4.86"/>
<circle cx="495.42" cy="1103.29" r="4.86"/>
<circle cx="498.45" cy="1103.29" r="4.86"/>
<circle cx="501.48" cy="1103.29" r="4.86"/>
<circle cx="504.51" cy="1103.29" r="4.86"/>
<circle cx="507.54" cy="1103.29" r="4.86"/>
<circle cx="510.57" cy="1103.29" r="4.86"/>
<circle cx="513.60" cy="1103.29" r="4.86"/>
<circle cx="516.63" cy="1103.29" r="4.86"/>
<circle cx="519.66" cy="1103.29" r="4.86"/>
<circle cx="522.69" cy="1104.70" r="4.86"/>
<circle cx="525.72" cy="1104.70" r="4.86"/>
<circle cx="528.75" cy="1104.70" r="4.86"/>
<circle cx="531.77" cy="1104.70" r="4.86"/>
<circle cx="534.80" cy="1104.70" r="4.86"/>
<circle cx="537.83" cy="1104.70" r="4.86"/>
<circle cx="540.86" cy="1104.70" r="4.86"/>
<circle cx="543.89" cy="1104.70" r="4.86"/>
<circle cx="546.92" cy="1104.70" r="4.86"/>
<circle cx="549.95" cy="1104.70" r="4.86"/>
<circle cx="552.98" cy="1104.70" r="4.86"/>
<circle cx="556.01" cy="1104.70" r="4.86"/>
<circle cx="559.04" cy="1105.69" r="4.86"/>
<circle cx="562.07" cy="1105.69" r="4.86"/>
<circle cx="565.10" cy="1105.69" r="4.86"/>
<circle cx="568.13" cy="1105.69" r="4.86"/>
<circle cx="571.15" cy="1105.69" r="4.86"/>
<circle cx="574.18" cy="1105.69" r="4.86"/>
<circle cx="577.21" cy="1105.69" r="4.86"/>
<circle cx="580.24" cy="1105.69" r="4.86"/>
<circle cx="583.27" cy="1105.69" r="4.86"/>
<circle cx="586.30" cy="1105.69" r="4.86"/>
<circle cx="589.33" cy="1105.69" r="4.86"/>
<circle cx="592.36" cy="1105.69" r="4.86"/>
<circle cx="595.39" cy="1105.69" r="4.86"/>
<circle cx="598.42" cy="1105.69" r="4.86"/>
<circle cx="601.45" cy="1105.69" r="4.86"/>
<circle cx="604.48" cy="1105.69" r="4.86"/>
<circle cx="607.51" cy="1105.69" r="4.86"/>
<circle cx="610.53" cy="1105.69" r="4.86"/>
<circle cx="613.56" cy="1105.69" r="4.86"/>
<circle cx="616.59" cy="1105.69" r="4.86"/>
<circle cx="619.62" cy="1105.69" r="4.86"/>
<circle cx="622.65" cy="1105.69" r="4.86"/>
<circle cx="625.68" cy="1105.69" r="4.86"/>
<circle cx="628.71" cy="1105.69" r="4.86"/>
<circle cx="631.74" cy="1105.69" r="4.86"/>
<circle cx="634.77" cy="1105.69" r="4.86"/>
<circle cx="637.80" cy="1105.69" r="4.86"/>
<circle cx="640.83" cy="1105.69" r="4.86"/>
<circle cx="643.86" cy="1105.69" r="4.86"/>
<circle cx="646.89" cy="1105.69" r="4.86"/>
<circle cx="649.92" cy="1105.69" r="4.86"/>
<circle cx="652.94" cy="1106.68" r="4.86"/>
<circle cx="655.97" cy="1106.68" r="4.86"/>
<circle cx="659.00" cy="1106.68" r="4.86"/>
<circle cx="662.03" cy="1106.68" r="4.86"/>
<circle cx="665.06" cy="1106.68" r="4.86"/>
<circle cx="668.09" cy="1106.68" r="4.86"/>
<circle cx="671.12" cy="1106.68" r="4.86"/>
<circle cx="674.15" cy="1106.68" r="4.86"/>
<circle cx="677.18" cy="1103.04" r="4.86"/>
<circle cx="680.21" cy="1095.12" r="4.86"/>
<circle cx="683.24" cy="1027.22" r="4.86"/>
<circle cx="686.27" cy="946.10" r="4.86"/>
<circle cx="689.30" cy="912.24" r="4.86"/>
<circle cx="692.32" cy="1075.13" r="4.86"/>
<circle cx="695.35" cy="1087.19" r="4.86"/>
<circle cx="698.38" cy="1024.41" r="4.86"/>
<circle cx="701.41" cy="1086.03" r="4.86"/>
<circle cx="704.44" cy="1086.69" r="4.86"/>
<circle cx="707.47" cy="1096.27" r="4.86"/>
<circle cx="710.50" cy="1096.27" r="4.86"/>
<circle cx="713.53" cy="1096.27" r="4.86"/>
<circle cx="716.56" cy="1103.04" r="4.86"/>
<circle cx="719.59" cy="1103.04" r="4.86"/>
<circle cx="722.62" cy="1107.34" r="4.86"/>
<circle cx="725.65" cy="1107.34" r="4.86"/>
<circle cx="728.68" cy="1108.17" r="4.86"/>
<circle cx="731.70" cy="1109.16" r="4.86"/>
<circle cx="734.73" cy="1109.16" r="4.86"/>
<circle cx="737.76" cy="1110.64" r="4.86"/>
<circle cx="740.79" cy="1111.64" r="4.86"/>
<circle cx="743.82" cy="1111.64" r="4.86"/>
<circle cx="746.85" cy="1111.64" r="4.86"/>
<circle cx="749.88" cy="1109.16" r="4.86"/>
<circle cx="752.91" cy="1110.97" r="4.86"/>
<circle cx="755.94" cy="1110.97" r="4.86"/>
<circle cx="758.97" cy="1110.97" r="4.86"/>
<circle cx="762.00" cy="1110.97" r="4.86"/>
<circle cx="765.03" cy="1110.97" r="4.86"/>
<circle cx="768.06" cy="1110.97" r="4.86"/>
<circle cx="771.08" cy="1110.97" r="4.86"/>
<circle cx="774.11" cy="1110.97" r="4.86"/>
<circle cx="777.14" cy="1110.97" r="4.86"/>
<circle cx="780.17" cy="1110.97" r="4.86"/>
<circle cx="783.20" cy="1110.97" r="4.86"/>
<circle cx="786.23" cy="1110.97" r="4.86"/>
<circle cx="789.26" cy="1110.97" r="4.86"/>
<circle cx="792.29" cy="1109.98" r="4.86"/>
<circle cx="795.32" cy="1109.98" r="4.86"/>
<circle cx="798.35" cy="1109.98" r="4.86"/>
<circle cx="801.38" cy="1109.98" r="4.86"/>
<circle cx="804.41" cy="1109.98" r="4.86"/>
<circle cx="807.44" cy="1109.98" r="4.86"/>
<circle cx="810.46" cy="1109.98" r="4.86"/>
<circle cx="813.49" cy="1109.98" r="4.86"/>
<circle cx="816.52" cy="1109.16" r="4.86"/>
<circle cx="819.55" cy="1109.16" r="4.86"/>
<circle cx="822.58" cy="1109.16" r="4.86"/>
<circle cx="825.61" cy="1109.16" r="4.86"/>
<circle cx="828.64" cy="1109.16" r="4.86"/>
<circle cx="831.67" cy="1109.16" r="4.86"/>
<circle cx="834.70" cy="1109.16" r="4.86"/>
<circle cx="837.73" cy="1109.16" r="4.86"/>
<circle cx="840.76" cy="1109.16" r="4.86"/>
<circle cx="843.79" cy="1109.16" r="4.86"/>
<circle cx="846.82" cy="1109.16" r="4.86"/>
<circle cx="849.84" cy="1109.16" r="4.86"/>
<circle cx="852.87" cy="1109.16" r="4.86"/>
<circle cx="855.90" cy="1109.16" r="4.86"/>
<circle cx="858.93" cy="1109.16" r="4.86"/>
<circle cx="861.96" cy="1109.16" r="4.86"/>
<circle cx="864.99" cy="1108.00" r="4.86"/>
<circle cx="868.02" cy="1108.00" r="4.86"/>
<circle cx="871.05" cy="1108.00" r="4.86"/>
<circle cx="874.08" cy="1108.00" r="4.86"/>
<circle cx="877.11" cy="1108.00" r="4.86"/>
<circle cx="880.14" cy="1108.00" r="4.86"/>
<circle cx="883.17" cy="1108.00" r="4.86"/>
<circle cx="886.20" cy="1108.00" r="4.86"/>
<circle cx="889.22" cy="1108.00" r="4.86"/>
<circle cx="892.25" cy="1108.00" r="4.86"/>
<circle cx="895.28" cy="1108.00" r="4.86"/>
<circle cx="898.31" cy="1108.00" r="4.86"/>
<circle cx="901.34" cy="1108.00" r="4.86"/>
<circle cx="904.37" cy="1108.00" r="4.86"/>
<circle cx="907.40" cy="1108.00" r="4.86"/>
<circle cx="910.43" cy="1108.00" r="4.86"/>
<circle cx="913.46" cy="1108.00" r="4.86"/>
<circle cx="916.49" cy="1108.00" r="4.86"/>
<circle cx="919.52" cy="1108.00" r="4.86"/>
<circle cx="922.55" cy="1108.00" r="4.86"/>
<circle cx="925.58" cy="1108.00" r="4.86"/>
<circle cx="928.61" cy="1108.00" r="4.86"/>
<circle cx="931.63" cy="1108.00" r="4.86"/>
<circle cx="934.66" cy="1108.00" r="4.86"/>
<circle cx="937.69" cy="1108.00" r="4.86"/>
<circle cx="940.72" cy="1108.00" r="4.86"/>
<circle cx="943.75" cy="1108.00" r="4.86"/>
<circle cx="946.78" cy="1107.34" r="4.86"/>
<circle cx="949.81" cy="1107.34" r="4.86"/>
<circle cx="952.84" cy="1106.51" r="4.86"/>
<circle cx="955.87" cy="1105.36" r="4.86"/>
<circle cx="958.90" cy="1104.04" r="4.86"/>
<circle cx="961.93" cy="1102.71" r="4.86"/>
<circle cx="964.96" cy="1102.38" r="4.86"/>
<circle cx="967.99" cy="1085.37" r="4.86"/>
<circle cx="971.01" cy="945.61" r="4.86"/>
<circle cx="974.04" cy="893.41" r="4.86"/>
<circle cx="977.07" cy="1068.52" r="4.86"/>
<circle cx="980.10" cy="1037.46" r="4.86"/>
<circle cx="983.13" cy="982.28" r="4.86"/>
<circle cx="986.16" cy="1054.48" r="4.86"/>
<circle cx="989.19" cy="1079.42" r="4.86"/>
<circle cx="992.22" cy="1047.37" r="4.86"/>
<circle cx="995.25" cy="1007.39" r="4.86"/>
<circle cx="998.28" cy="1094.45" r="4.86"/>
<circle cx="1001.31" cy="1099.58" r="4.86"/>
<circle cx="1004.34" cy="1102.71" r="4.86"/>
<circle cx="1007.37" cy="1102.05" r="4.86"/>
<circle cx="1010.39" cy="1091.65" r="4.86"/>
<circle cx="1013.42" cy="956.51" r="4.86"/>
<circle cx="1016.45" cy="1054.48" r="4.86"/>
<circle cx="1019.48" cy="1096.27" r="4.86"/>
<circle cx="1022.51" cy="1108.33" r="4.86"/>
<circle cx="1025.54" cy="1107.84" r="4.86"/>
<circle cx="1028.57" cy="1107.34" r="4.86"/>
<circle cx="1031.60" cy="1111.30" r="4.86"/>
<circle cx="1034.63" cy="1111.30" r="4.86"/>
<circle cx="1037.66" cy="1111.30" r="4.86"/>
<circle cx="1040.69" cy="1113.62" r="4.86"/>
<circle cx="1043.72" cy="1113.62" r="4.86"/>
<circle cx="1046.75" cy="1113.62" r="4.86"/>
<circle cx="1049.77" cy="1114.69" r="4.86"/>
<circle cx="1052.80" cy="1114.69" r="4.86"/>
<circle cx="1055.83" cy="1114.69" r="4.86"/>
<circle cx="1058.86" cy="1114.69" r="4.86"/>
<circle cx="1061.89" cy="1114.69" r="4.86"/>
<circle cx="1064.92" cy="1114.69" r="4.86"/>
<circle cx="1067.95" cy="1114.69" r="4.86"/>
<circle cx="1070.98" cy="1114.69" r="4.86"/>
<circle cx="1074.01" cy="1112.96" r="4.86"/>
<circle cx="1077.04" cy="1112.96" r="4.86"/>
<circle cx="1080.07" cy="1112.96" r="4.86"/>
<circle cx="1083.10" cy="1112.96" r="4.86"/>
<circle cx="1086.13" cy="1112.96" r="4.86"/>
<circle cx="1089.15" cy="1112.96" r="4.86"/>
<circle cx="1092.18" cy="1112.96" r="4.86"/>
<circle cx="1095.21" cy="1112.96" r="4.86"/>
<circle cx="1098.24" cy="1112.96" r="4.86"/>
<circle cx="1101.27" cy="1112.96" r="4.86"/>
<circle cx="1104.30" cy="1112.96" r="4.86"/>
<circle cx="1107.33" cy="1112.96" r="4.86"/>
<circle cx="1110.36" cy="1112.46" r="4.86"/>
<circle cx="1113.39" cy="1112.46" r="4.86"/>
<circle cx="1116.42" cy="1112.46" r="4.86"/>
<circle cx="1119.45" cy="1112.46" r="4.86"/>
<circle cx="1122.48" cy="1112.46" r="4.86"/>
<circle cx="1125.51" cy="1112.46" r="4.86"/>
<circle cx="1128.53" cy="1112.46" r="4.86"/>
<circle cx="1131.56" cy="1112.46" r="4.86"/>
<circle cx="1134.59" cy="1112.46" r="4.86"/>
<circle cx="1137.62" cy="1112.46" r="4.86"/>
<circle cx="1140.65" cy="1112.46" r="4.86"/>
<circle cx="1143.68" cy="1112.46" r="4.86"/>
<circle cx="1146.71" cy="1112.46" r="4.86"/>
<circle cx="1149.74" cy="1111.30" r="4.86"/>
<circle cx="1152.77" cy="1111.30" r="4.86"/>
<circle cx="1155.80" cy="1111.30" r="4.86"/>
<circle cx="1158.83" cy="1111.30" r="4.86"/>
<circle cx="1161.86" cy="1111.30" r="4.86"/>
<circle cx="1164.89" cy="1111.30" r="4.86"/>
<circle cx="1167.91" cy="1111.30" r="4.86"/>
<circle cx="1170.94" cy="1111.30" r="4.86"/>
<circle cx="1173.97" cy="1111.30" r="4.86"/>
<circle cx="1177.00" cy="1111.30" r="4.86"/>
<circle cx="1180.03" cy="1111.30" r="4.86"/>
<circle cx="1183.06" cy="1111.30" r="4.86"/>
<circle cx="1186.09" cy="1111.30" r="4.86"/>
<circle cx="1189.12" cy="1111.30" r="4.86"/>
<circle cx="1192.15" cy="1111.30" r="4.86"/>
<circle cx="1195.18" cy="1111.30" r="4.86"/>
<circle cx="1198.21" cy="1111.30" r="4.86"/>
<circle cx="1201.24" cy="1111.30" r="4.86"/>
<circle cx="1204.27" cy="1111.30" r="4.86"/>
<circle cx="1207.30" cy="1110.48" r="4.86"/>
<circle cx="1210.32" cy="1110.48" r="4.86"/>
<circle cx="1213.35" cy="1110.48" r="4.86"/>
<circle cx="1216.38" cy="1110.48" r="4.86"/>
<circle cx="1219.41" cy="1111.30" r="4.86"/>
<circle cx="1222.44" cy="1111.30" r="4.86"/>
<circle cx="1225.47" cy="1111.30" r="4.86"/>
<circle cx="1228.50" cy="1111.30" r="4.86"/>
<circle cx="1231.53" cy="1111.30" r="4.86"/>
<circle cx="1234.56" cy="1111.30" r="4.86"/>
<circle cx="1237.59" cy="1111.30" r="4.86"/>
<circle cx="1240.62" cy="1111.30" r="4.86"/>
<circle cx="1243.65" cy="1111.30" r="4.86"/>
<circle cx="1246.68" cy="1111.30" r="4.86"/>
<circle cx="1249.70" cy="1111.30" r="4.86"/>
<circle cx="1252.73" cy="1111.30" r="4.86"/>
<circle cx="1255.76" cy="1111.30" r="4.86"/>
<circle cx="1258.79" cy="1111.30" r="4.86"/>
<circle cx="1261.82" cy="1111.30" r="4.86"/>
<circle cx="1264.85" cy="1111.30" r="4.86"/>
<circle cx="1267.88" cy="1112.30" r="4.86"/>
<circle cx="1270.91" cy="1112.30" r="4.86"/>
<circle cx="1273.94" cy="1112.30" r="4.86"/>
<circle cx="1276.97" cy="1112.30" r="4.86"/>
<circle cx="1280.00" cy="1112.30" r="4.86"/>
<circle cx="1283.03" cy="1112.30" r="4.86"/>
<circle cx="1286.06" cy="1112.30" r="4.86"/>
<circle cx="1289.08" cy="1112.30" r="4.86"/>
<circle cx="1292.11" cy="1112.30" r="4.86"/>
<circle cx="1295.14" cy="1112.30" r="4.86"/>
<circle cx="1298.17" cy="1112.30" r="4.86"/>
<circle cx="1301.20" cy="1112.30" r="4.86"/>
<circle cx="1304.23" cy="1112.30" r="4.86"/>
<circle cx="1307.26" cy="1112.30" r="4.86"/>
<circle cx="1310.29" cy="1113.20" r="4.86"/>
<circle cx="1313.32" cy="1113.20" r="4.86"/>
<circle cx="1316.35" cy="1113.20" r="4.86"/>
<circle cx="1319.38" cy="1113.20" r="4.86"/>
<circle cx="1322.41" cy="1113.20" r="4.86"/>
<circle cx="1325.44" cy="1113.20" r="4.86"/>
<circle cx="1328.46" cy="1113.20" r="4.86"/>
<circle cx="1331.49" cy="1113.20" r="4.86"/>
<circle cx="1334.52" cy="1113.20" r="4.86"/>
<circle cx="1337.55" cy="1113.20" r="4.86"/>
<circle cx="1340.58" cy="1113.20" r="4.86"/>
<circle cx="1343.61" cy="1113.20" r="4.86"/>
<circle cx="1346.64" cy="1113.20" r="4.86"/>
<circle cx="1349.67" cy="1113.20" r="4.86"/>
<circle cx="1352.70" cy="1113.20" r="4.86"/>
<circle cx="1355.73" cy="1113.20" r="4.86"/>
<circle cx="1358.76" cy="1113.20" r="4.86"/>
<circle cx="1361.79" cy="1113.20" r="4.86"/>
<circle cx="1364.82" cy="1112.30" r="4.86"/>
<circle cx="1367.84" cy="1112.30" r="4.86"/>
<circle cx="1370.87" cy="1112.30" r="4.86"/>
<circle cx="1373.90" cy="1112.30" r="4.86"/>
</g>
<line x1="107.68" y1="1125.3" x2="107.68" y2="882.4" stroke="#cc181c" stroke-width="2.78" stroke-dasharray="10.28 4.44"/>
<circle cx="107.68" cy="1104.5" r="6.4" fill="#cc181c"/>
</g>
<rect x="89.5" y="882.4" width="1284.80" height="242.90" fill="none" stroke="#000" stroke-width="1.11"/>
<g stroke="#000" stroke-width="1.11">
<line x1="164.54" y1="1125.3" x2="164.54" y2="1130.16"/>
<line x1="315.76" y1="1125.3" x2="315.76" y2="1130.16"/>
<line x1="466.98" y1="1125.3" x2="466.98" y2="1130.16"/>
<line x1="618.20" y1="1125.3" x2="618.20" y2="1130.16"/>
<line x1="769.42" y1="1125.3" x2="769.42" y2="1130.16"/>
<line x1="920.64" y1="1125.3" x2="920.64" y2="1130.16"/>
<line x1="1071.86" y1="1125.3" x2="1071.86" y2="1130.16"/>
<line x1="1223.08" y1="1125.3" x2="1223.08" y2="1130.16"/>
<line x1="1374.30" y1="1125.3" x2="1374.30" y2="1130.16"/>
<line x1="89.5" y1="1115.60" x2="84.64" y2="1115.60"/>
<line x1="89.5" y1="1074.30" x2="84.64" y2="1074.30"/>
<line x1="89.5" y1="1033.00" x2="84.64" y2="1033.00"/>
<line x1="89.5" y1="991.70" x2="84.64" y2="991.70"/>
<line x1="89.5" y1="950.40" x2="84.64" y2="950.40"/>
<line x1="89.5" y1="909.10" x2="84.64" y2="909.10"/>
</g>
<text x="164.54" y="1149.60" font-size="19.44" text-anchor="middle" fill="#000">500</text>
<text x="315.76" y="1149.60" font-size="19.44" text-anchor="middle" fill="#000">750</text>
<text x="466.98" y="1149.60" font-size="19.44" text-anchor="middle" fill="#000">1000</text>
<text x="618.20" y="1149.60" font-size="19.44" text-anchor="middle" fill="#000">1250</text>
<text x="769.42" y="1149.60" font-size="19.44" text-anchor="middle" fill="#000">1500</text>
<text x="920.64" y="1149.60" font-size="19.44" text-anchor="middle" fill="#000">1750</text>
<text x="1071.86" y="1149.60" font-size="19.44" text-anchor="middle" fill="#000">2000</text>
<text x="1223.08" y="1149.60" font-size="19.44" text-anchor="middle" fill="#000">2250</text>
<text x="1374.30" y="1149.60" font-size="19.44" text-anchor="middle" fill="#000">2500</text>
<text x="79.00" y="1124.60" font-size="19.44" text-anchor="end" fill="#000">0.0</text>
<text x="79.00" y="1083.30" font-size="19.44" text-anchor="end" fill="#000">2.5</text>
<text x="79.00" y="1042.00" font-size="19.44" text-anchor="end" fill="#000">5.0</text>
<text x="79.00" y="1000.70" font-size="19.44" text-anchor="end" fill="#000">7.5</text>
<text x="79.00" y="959.40" font-size="19.44" text-anchor="end" fill="#000">10.0</text>
<text x="79.00" y="918.10" font-size="19.44" text-anchor="end" fill="#000">12.5</text>
<text x="731.20" y="1176.20" font-size="22.22" text-anchor="middle" fill="#000">Wavelength (nm)</text>
<text transform="translate(28.3,1008.3) rotate(-90)" font-size="22.22" text-anchor="middle">Reflectance</text>
<text x="731.50" y="870.40" font-size="22.22" text-anchor="middle" fill="#000">Spectral Profile at the marked point</text>
<rect x="1395.6" y="856.4" width="335.20" height="295.20" rx="2.8" fill="#fff" stroke="#cccccc" stroke-width="1.39"/>
<rect x="1402.3" y="865.40" width="33.4" height="12.2" rx="0" fill="#ee82ee" fill-opacity="0.2"/>
<text x="1448.90" y="877.40" font-size="16.67" text-anchor="start" fill="#000">visible-violet</text>
<rect x="1402.3" y="891.68" width="33.4" height="12.2" rx="0" fill="#0000ff" fill-opacity="0.2"/>
<text x="1448.90" y="903.68" font-size="16.67" text-anchor="start" fill="#000">visible-blue</text>
<rect x="1402.3" y="917.96" width="33.4" height="12.2" rx="0" fill="#00ffff" fill-opacity="0.2"/>
<text x="1448.90" y="929.96" font-size="16.67" text-anchor="start" fill="#000">visible-cyan</text>
<rect x="1402.3" y="944.24" width="33.4" height="12.2" rx="1.2" fill="#008000" fill-opacity="0.2" stroke="#a9b6b6" stroke-width="1.3"/>
<text x="1448.90" y="956.24" font-size="16.67" text-anchor="start" fill="#000">visible-green</text>
<rect x="1402.3" y="970.52" width="33.4" height="12.2" rx="1.2" fill="#ffff00" fill-opacity="0.2" stroke="#f0f0a6" stroke-width="1.3"/>
<text x="1448.90" y="982.52" font-size="16.67" text-anchor="start" fill="#000">visible-yellow</text>
<rect x="1402.3" y="996.80" width="33.4" height="12.2" rx="1.2" fill="#ffa500" fill-opacity="0.2" stroke="#fddcab" stroke-width="1.3"/>
<text x="1448.90" y="1008.80" font-size="16.67" text-anchor="start" fill="#000">visible-orange</text>
<rect x="1402.3" y="1023.08" width="33.4" height="12.2" rx="0" fill="#ff0000" fill-opacity="0.2"/>
<text x="1448.90" y="1035.08" font-size="16.67" text-anchor="start" fill="#000">visible-red</text>
<rect x="1402.3" y="1049.36" width="33.4" height="12.2" rx="1.2" fill="#808080" fill-opacity="0.2" stroke="#d2d2d2" stroke-width="1.3"/>
<text x="1448.90" y="1061.36" font-size="16.67" text-anchor="start" fill="#000">near-infrared</text>
<text x="1448.90" y="1087.64" font-size="16.67" text-anchor="start" fill="#000">shortwave-infrared</text>
<rect x="1402.3" y="1101.92" width="33.4" height="12.2" rx="0" fill="#0000ff" fill-opacity="0.1"/>
<text x="1448.90" y="1113.92" font-size="16.67" text-anchor="start" fill="#000">water vapor regions</text>
<line x1="1402.3" y1="1134.30" x2="1435.7" y2="1134.30" stroke="#cc181c" stroke-width="2.78" stroke-dasharray="10.28 4.44"/>
<text x="1448.90" y="1140.20" font-size="16.67" text-anchor="start" fill="#000">Selected wavelength: 406.00 nm</text>
</svg></body></html>
